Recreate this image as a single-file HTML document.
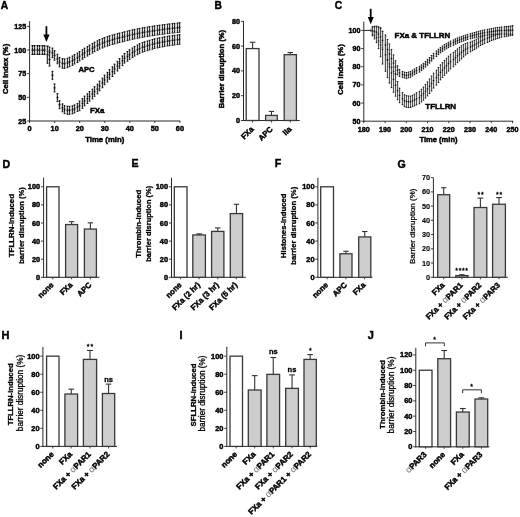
<!DOCTYPE html>
<html><head><meta charset="utf-8"><style>
html,body{margin:0;padding:0;background:#fff;}
svg{display:block;filter:grayscale(1) blur(0.25px);}
text{font-family:"Liberation Sans", sans-serif;}
</style></head><body>
<svg width="520" height="517" viewBox="0 0 520 517">
<rect width="520" height="517" fill="#fff"/>
<text x="0.80" y="8.80" font-size="10.2" font-weight="bold" text-anchor="start" fill="#000" stroke="#000" stroke-width="0.45">A</text>
<text x="214.50" y="8.80" font-size="10.2" font-weight="bold" text-anchor="start" fill="#000" stroke="#000" stroke-width="0.45">B</text>
<text x="334.80" y="8.80" font-size="10.2" font-weight="bold" text-anchor="start" fill="#000" stroke="#000" stroke-width="0.45">C</text>
<text x="2.60" y="167.50" font-size="10.6" font-weight="bold" text-anchor="start" fill="#000" stroke="#000" stroke-width="0.45">D</text>
<text x="131.60" y="167.40" font-size="10.6" font-weight="bold" text-anchor="start" fill="#000" stroke="#000" stroke-width="0.45">E</text>
<text x="274.80" y="167.40" font-size="10.6" font-weight="bold" text-anchor="start" fill="#000" stroke="#000" stroke-width="0.45">F</text>
<text x="397.60" y="167.60" font-size="10.6" font-weight="bold" text-anchor="start" fill="#000" stroke="#000" stroke-width="0.45">G</text>
<text x="1.60" y="339.40" font-size="11.0" font-weight="bold" text-anchor="start" fill="#000" stroke="#000" stroke-width="0.45">H</text>
<text x="179.40" y="339.40" font-size="11.0" font-weight="bold" text-anchor="start" fill="#000" stroke="#000" stroke-width="0.45">I</text>
<text x="367.80" y="339.30" font-size="11.0" font-weight="bold" text-anchor="start" fill="#000" stroke="#000" stroke-width="0.45">J</text>
<line x1="29.60" y1="21.20" x2="29.60" y2="121.50" stroke="#2a2a2a" stroke-width="1.0"/>
<line x1="27.00" y1="26.33" x2="29.60" y2="26.33" stroke="#2a2a2a" stroke-width="0.9"/>
<text x="26.20" y="28.83" font-size="7.1" font-weight="bold" text-anchor="end" fill="#000" stroke="#000" stroke-width="0.45">125</text>
<line x1="27.00" y1="50.00" x2="29.60" y2="50.00" stroke="#2a2a2a" stroke-width="0.9"/>
<text x="26.20" y="52.50" font-size="7.1" font-weight="bold" text-anchor="end" fill="#000" stroke="#000" stroke-width="0.45">100</text>
<line x1="27.00" y1="73.67" x2="29.60" y2="73.67" stroke="#2a2a2a" stroke-width="0.9"/>
<text x="26.20" y="76.17" font-size="7.1" font-weight="bold" text-anchor="end" fill="#000" stroke="#000" stroke-width="0.45">75</text>
<line x1="27.00" y1="97.34" x2="29.60" y2="97.34" stroke="#2a2a2a" stroke-width="0.9"/>
<text x="26.20" y="99.84" font-size="7.1" font-weight="bold" text-anchor="end" fill="#000" stroke="#000" stroke-width="0.45">50</text>
<line x1="27.00" y1="121.00" x2="29.60" y2="121.00" stroke="#2a2a2a" stroke-width="0.9"/>
<text x="26.20" y="123.50" font-size="7.1" font-weight="bold" text-anchor="end" fill="#000" stroke="#000" stroke-width="0.45">25</text>
<line x1="29.10" y1="121.00" x2="180.20" y2="121.00" stroke="#2a2a2a" stroke-width="1.0"/>
<line x1="29.60" y1="121.00" x2="29.60" y2="123.00" stroke="#2a2a2a" stroke-width="0.9"/>
<text x="29.60" y="131.40" font-size="7.3" font-weight="bold" text-anchor="middle" fill="#000" stroke="#000" stroke-width="0.45">0</text>
<line x1="54.65" y1="121.00" x2="54.65" y2="123.00" stroke="#2a2a2a" stroke-width="0.9"/>
<text x="54.65" y="131.40" font-size="7.3" font-weight="bold" text-anchor="middle" fill="#000" stroke="#000" stroke-width="0.45">10</text>
<line x1="79.70" y1="121.00" x2="79.70" y2="123.00" stroke="#2a2a2a" stroke-width="0.9"/>
<text x="79.70" y="131.40" font-size="7.3" font-weight="bold" text-anchor="middle" fill="#000" stroke="#000" stroke-width="0.45">20</text>
<line x1="104.75" y1="121.00" x2="104.75" y2="123.00" stroke="#2a2a2a" stroke-width="0.9"/>
<text x="104.75" y="131.40" font-size="7.3" font-weight="bold" text-anchor="middle" fill="#000" stroke="#000" stroke-width="0.45">30</text>
<line x1="129.80" y1="121.00" x2="129.80" y2="123.00" stroke="#2a2a2a" stroke-width="0.9"/>
<text x="129.80" y="131.40" font-size="7.3" font-weight="bold" text-anchor="middle" fill="#000" stroke="#000" stroke-width="0.45">40</text>
<line x1="154.85" y1="121.00" x2="154.85" y2="123.00" stroke="#2a2a2a" stroke-width="0.9"/>
<text x="154.85" y="131.40" font-size="7.3" font-weight="bold" text-anchor="middle" fill="#000" stroke="#000" stroke-width="0.45">50</text>
<line x1="179.90" y1="121.00" x2="179.90" y2="123.00" stroke="#2a2a2a" stroke-width="0.9"/>
<text x="179.90" y="131.40" font-size="7.3" font-weight="bold" text-anchor="middle" fill="#000" stroke="#000" stroke-width="0.45">60</text>
<text x="104.75" y="142.20" font-size="7.8" font-weight="bold" text-anchor="middle" textLength="39.00" lengthAdjust="spacingAndGlyphs" fill="#000" stroke="#000" stroke-width="0.45">Time (min)</text>
<text x="7.90" y="68.90" font-size="7.7" font-weight="bold" text-anchor="middle" transform="rotate(-90 7.90 68.90)" textLength="50.20" lengthAdjust="spacingAndGlyphs" fill="#000" stroke="#000" stroke-width="0.45">Cell index (%)</text>
<rect x="31.01" y="45.65" width="2.20" height="8.71" fill="#d0d0d0"/>
<rect x="33.51" y="45.65" width="2.20" height="8.71" fill="#d0d0d0"/>
<rect x="36.02" y="45.65" width="2.20" height="8.71" fill="#d0d0d0"/>
<rect x="38.52" y="45.65" width="2.20" height="8.71" fill="#d0d0d0"/>
<rect x="41.02" y="45.65" width="2.20" height="8.71" fill="#d0d0d0"/>
<rect x="43.53" y="45.65" width="2.20" height="8.71" fill="#d0d0d0"/>
<rect x="46.04" y="46.12" width="2.20" height="8.71" fill="#d0d0d0"/>
<rect x="48.54" y="47.07" width="2.20" height="8.71" fill="#d0d0d0"/>
<rect x="51.04" y="48.11" width="2.20" height="9.47" fill="#d0d0d0"/>
<rect x="53.55" y="50.66" width="2.20" height="9.47" fill="#d0d0d0"/>
<rect x="56.05" y="54.26" width="2.20" height="9.47" fill="#d0d0d0"/>
<rect x="58.56" y="57.38" width="2.20" height="9.47" fill="#d0d0d0"/>
<rect x="61.06" y="58.71" width="2.20" height="9.47" fill="#d0d0d0"/>
<rect x="63.57" y="58.90" width="2.20" height="9.47" fill="#d0d0d0"/>
<rect x="66.08" y="58.24" width="2.20" height="9.47" fill="#d0d0d0"/>
<rect x="68.58" y="57.19" width="2.20" height="9.47" fill="#d0d0d0"/>
<rect x="71.09" y="55.96" width="2.20" height="9.47" fill="#d0d0d0"/>
<rect x="73.59" y="54.54" width="2.20" height="9.47" fill="#d0d0d0"/>
<rect x="76.09" y="53.03" width="2.20" height="9.47" fill="#d0d0d0"/>
<rect x="78.60" y="51.42" width="2.20" height="9.47" fill="#d0d0d0"/>
<rect x="81.11" y="49.76" width="2.20" height="9.47" fill="#d0d0d0"/>
<rect x="83.61" y="48.11" width="2.20" height="9.47" fill="#d0d0d0"/>
<rect x="86.12" y="46.59" width="2.20" height="9.47" fill="#d0d0d0"/>
<rect x="88.62" y="45.08" width="2.20" height="9.47" fill="#d0d0d0"/>
<rect x="91.12" y="43.61" width="2.20" height="9.47" fill="#d0d0d0"/>
<rect x="93.63" y="42.14" width="2.20" height="9.47" fill="#d0d0d0"/>
<rect x="96.13" y="40.86" width="2.20" height="9.47" fill="#d0d0d0"/>
<rect x="98.64" y="39.59" width="2.20" height="9.47" fill="#d0d0d0"/>
<rect x="101.15" y="38.54" width="2.20" height="9.47" fill="#d0d0d0"/>
<rect x="103.65" y="37.50" width="2.20" height="9.47" fill="#d0d0d0"/>
<rect x="106.16" y="36.65" width="2.20" height="9.47" fill="#d0d0d0"/>
<rect x="108.66" y="35.80" width="2.20" height="9.47" fill="#d0d0d0"/>
<rect x="111.16" y="35.07" width="2.20" height="9.47" fill="#d0d0d0"/>
<rect x="113.67" y="34.35" width="2.20" height="9.47" fill="#d0d0d0"/>
<rect x="116.18" y="33.62" width="2.20" height="9.47" fill="#d0d0d0"/>
<rect x="118.68" y="33.01" width="2.20" height="9.47" fill="#d0d0d0"/>
<rect x="121.19" y="32.39" width="2.20" height="9.47" fill="#d0d0d0"/>
<rect x="123.69" y="31.75" width="2.20" height="9.47" fill="#d0d0d0"/>
<rect x="126.19" y="31.11" width="2.20" height="9.47" fill="#d0d0d0"/>
<rect x="128.70" y="30.47" width="2.20" height="9.47" fill="#d0d0d0"/>
<rect x="131.21" y="29.84" width="2.20" height="9.47" fill="#d0d0d0"/>
<rect x="133.71" y="29.34" width="2.20" height="9.47" fill="#d0d0d0"/>
<rect x="136.22" y="28.84" width="2.20" height="9.47" fill="#d0d0d0"/>
<rect x="138.72" y="28.34" width="2.20" height="9.47" fill="#d0d0d0"/>
<rect x="141.22" y="27.85" width="2.20" height="9.47" fill="#d0d0d0"/>
<rect x="143.73" y="27.45" width="2.20" height="9.47" fill="#d0d0d0"/>
<rect x="146.24" y="27.05" width="2.20" height="9.47" fill="#d0d0d0"/>
<rect x="148.74" y="26.65" width="2.20" height="9.47" fill="#d0d0d0"/>
<rect x="151.25" y="26.26" width="2.20" height="9.47" fill="#d0d0d0"/>
<rect x="153.75" y="25.86" width="2.20" height="9.47" fill="#d0d0d0"/>
<rect x="156.25" y="25.52" width="2.20" height="9.47" fill="#d0d0d0"/>
<rect x="158.76" y="25.18" width="2.20" height="9.47" fill="#d0d0d0"/>
<rect x="161.26" y="24.84" width="2.20" height="9.47" fill="#d0d0d0"/>
<rect x="163.77" y="24.50" width="2.20" height="9.47" fill="#d0d0d0"/>
<rect x="166.28" y="24.16" width="2.20" height="9.47" fill="#d0d0d0"/>
<rect x="168.78" y="23.87" width="2.20" height="9.47" fill="#d0d0d0"/>
<rect x="171.28" y="23.59" width="2.20" height="9.47" fill="#d0d0d0"/>
<rect x="173.79" y="23.30" width="2.20" height="9.47" fill="#d0d0d0"/>
<rect x="176.29" y="23.02" width="2.20" height="9.47" fill="#d0d0d0"/>
<rect x="178.80" y="22.74" width="2.20" height="9.47" fill="#d0d0d0"/>
<line x1="32.50" y1="45.65" x2="32.50" y2="54.35" stroke="#505050" stroke-width="1.0"/>
<line x1="32.50" y1="45.65" x2="32.50" y2="54.35" stroke="#1a1a1a" stroke-width="1.0" stroke-dasharray="1.2 1.2"/>
<rect x="31.60" y="45.15" width="1.8" height="1" fill="#111"/>
<rect x="31.60" y="53.85" width="1.8" height="1" fill="#111"/>
<rect x="31.60" y="49.30" width="1.8" height="1.4" fill="#111"/>
<line x1="34.50" y1="45.65" x2="34.50" y2="54.35" stroke="#505050" stroke-width="1.0"/>
<line x1="34.50" y1="45.65" x2="34.50" y2="54.35" stroke="#1a1a1a" stroke-width="1.0" stroke-dasharray="1.2 1.2"/>
<rect x="33.60" y="45.15" width="1.8" height="1" fill="#111"/>
<rect x="33.60" y="53.85" width="1.8" height="1" fill="#111"/>
<rect x="33.60" y="49.30" width="1.8" height="1.4" fill="#111"/>
<line x1="37.50" y1="45.65" x2="37.50" y2="54.35" stroke="#505050" stroke-width="1.0"/>
<line x1="37.50" y1="45.65" x2="37.50" y2="54.35" stroke="#1a1a1a" stroke-width="1.0" stroke-dasharray="1.2 1.2"/>
<rect x="36.60" y="45.15" width="1.8" height="1" fill="#111"/>
<rect x="36.60" y="53.85" width="1.8" height="1" fill="#111"/>
<rect x="36.60" y="49.30" width="1.8" height="1.4" fill="#111"/>
<line x1="39.50" y1="45.65" x2="39.50" y2="54.35" stroke="#505050" stroke-width="1.0"/>
<line x1="39.50" y1="45.65" x2="39.50" y2="54.35" stroke="#1a1a1a" stroke-width="1.0" stroke-dasharray="1.2 1.2"/>
<rect x="38.60" y="45.15" width="1.8" height="1" fill="#111"/>
<rect x="38.60" y="53.85" width="1.8" height="1" fill="#111"/>
<rect x="38.60" y="49.30" width="1.8" height="1.4" fill="#111"/>
<line x1="42.50" y1="45.65" x2="42.50" y2="54.35" stroke="#505050" stroke-width="1.0"/>
<line x1="42.50" y1="45.65" x2="42.50" y2="54.35" stroke="#1a1a1a" stroke-width="1.0" stroke-dasharray="1.2 1.2"/>
<rect x="41.60" y="45.15" width="1.8" height="1" fill="#111"/>
<rect x="41.60" y="53.85" width="1.8" height="1" fill="#111"/>
<rect x="41.60" y="49.30" width="1.8" height="1.4" fill="#111"/>
<line x1="44.50" y1="45.65" x2="44.50" y2="54.35" stroke="#505050" stroke-width="1.0"/>
<line x1="44.50" y1="45.65" x2="44.50" y2="54.35" stroke="#1a1a1a" stroke-width="1.0" stroke-dasharray="1.2 1.2"/>
<rect x="43.60" y="45.15" width="1.8" height="1" fill="#111"/>
<rect x="43.60" y="53.85" width="1.8" height="1" fill="#111"/>
<rect x="43.60" y="49.30" width="1.8" height="1.4" fill="#111"/>
<line x1="47.50" y1="46.12" x2="47.50" y2="54.83" stroke="#505050" stroke-width="1.0"/>
<line x1="47.50" y1="46.12" x2="47.50" y2="54.83" stroke="#1a1a1a" stroke-width="1.0" stroke-dasharray="1.2 1.2"/>
<rect x="46.60" y="45.62" width="1.8" height="1" fill="#111"/>
<rect x="46.60" y="54.33" width="1.8" height="1" fill="#111"/>
<rect x="46.60" y="49.77" width="1.8" height="1.4" fill="#111"/>
<line x1="49.50" y1="47.07" x2="49.50" y2="55.77" stroke="#505050" stroke-width="1.0"/>
<line x1="49.50" y1="47.07" x2="49.50" y2="55.77" stroke="#1a1a1a" stroke-width="1.0" stroke-dasharray="1.2 1.2"/>
<rect x="48.60" y="46.57" width="1.8" height="1" fill="#111"/>
<rect x="48.60" y="55.27" width="1.8" height="1" fill="#111"/>
<rect x="48.60" y="50.72" width="1.8" height="1.4" fill="#111"/>
<line x1="52.50" y1="48.11" x2="52.50" y2="57.57" stroke="#505050" stroke-width="1.0"/>
<line x1="52.50" y1="48.11" x2="52.50" y2="57.57" stroke="#1a1a1a" stroke-width="1.0" stroke-dasharray="1.2 1.2"/>
<rect x="51.60" y="47.61" width="1.8" height="1" fill="#111"/>
<rect x="51.60" y="57.07" width="1.8" height="1" fill="#111"/>
<rect x="51.60" y="52.14" width="1.8" height="1.4" fill="#111"/>
<line x1="54.50" y1="50.66" x2="54.50" y2="60.13" stroke="#505050" stroke-width="1.0"/>
<line x1="54.50" y1="50.66" x2="54.50" y2="60.13" stroke="#1a1a1a" stroke-width="1.0" stroke-dasharray="1.2 1.2"/>
<rect x="53.60" y="50.16" width="1.8" height="1" fill="#111"/>
<rect x="53.60" y="59.63" width="1.8" height="1" fill="#111"/>
<rect x="53.60" y="54.70" width="1.8" height="1.4" fill="#111"/>
<line x1="57.50" y1="54.26" x2="57.50" y2="63.73" stroke="#505050" stroke-width="1.0"/>
<line x1="57.50" y1="54.26" x2="57.50" y2="63.73" stroke="#1a1a1a" stroke-width="1.0" stroke-dasharray="1.2 1.2"/>
<rect x="56.60" y="53.76" width="1.8" height="1" fill="#111"/>
<rect x="56.60" y="63.23" width="1.8" height="1" fill="#111"/>
<rect x="56.60" y="58.29" width="1.8" height="1.4" fill="#111"/>
<line x1="59.50" y1="57.38" x2="59.50" y2="66.85" stroke="#505050" stroke-width="1.0"/>
<line x1="59.50" y1="57.38" x2="59.50" y2="66.85" stroke="#1a1a1a" stroke-width="1.0" stroke-dasharray="1.2 1.2"/>
<rect x="58.60" y="56.88" width="1.8" height="1" fill="#111"/>
<rect x="58.60" y="66.35" width="1.8" height="1" fill="#111"/>
<rect x="58.60" y="61.42" width="1.8" height="1.4" fill="#111"/>
<line x1="62.50" y1="58.71" x2="62.50" y2="68.18" stroke="#505050" stroke-width="1.0"/>
<line x1="62.50" y1="58.71" x2="62.50" y2="68.18" stroke="#1a1a1a" stroke-width="1.0" stroke-dasharray="1.2 1.2"/>
<rect x="61.60" y="58.21" width="1.8" height="1" fill="#111"/>
<rect x="61.60" y="67.68" width="1.8" height="1" fill="#111"/>
<rect x="61.60" y="62.74" width="1.8" height="1.4" fill="#111"/>
<line x1="64.50" y1="58.90" x2="64.50" y2="68.37" stroke="#505050" stroke-width="1.0"/>
<line x1="64.50" y1="58.90" x2="64.50" y2="68.37" stroke="#1a1a1a" stroke-width="1.0" stroke-dasharray="1.2 1.2"/>
<rect x="63.60" y="58.40" width="1.8" height="1" fill="#111"/>
<rect x="63.60" y="67.87" width="1.8" height="1" fill="#111"/>
<rect x="63.60" y="62.93" width="1.8" height="1.4" fill="#111"/>
<line x1="67.50" y1="58.24" x2="67.50" y2="67.70" stroke="#505050" stroke-width="1.0"/>
<line x1="67.50" y1="58.24" x2="67.50" y2="67.70" stroke="#1a1a1a" stroke-width="1.0" stroke-dasharray="1.2 1.2"/>
<rect x="66.60" y="57.74" width="1.8" height="1" fill="#111"/>
<rect x="66.60" y="67.20" width="1.8" height="1" fill="#111"/>
<rect x="66.60" y="62.27" width="1.8" height="1.4" fill="#111"/>
<line x1="69.50" y1="57.19" x2="69.50" y2="66.66" stroke="#505050" stroke-width="1.0"/>
<line x1="69.50" y1="57.19" x2="69.50" y2="66.66" stroke="#1a1a1a" stroke-width="1.0" stroke-dasharray="1.2 1.2"/>
<rect x="68.60" y="56.69" width="1.8" height="1" fill="#111"/>
<rect x="68.60" y="66.16" width="1.8" height="1" fill="#111"/>
<rect x="68.60" y="61.23" width="1.8" height="1.4" fill="#111"/>
<line x1="72.50" y1="55.96" x2="72.50" y2="65.43" stroke="#505050" stroke-width="1.0"/>
<line x1="72.50" y1="55.96" x2="72.50" y2="65.43" stroke="#1a1a1a" stroke-width="1.0" stroke-dasharray="1.2 1.2"/>
<rect x="71.60" y="55.46" width="1.8" height="1" fill="#111"/>
<rect x="71.60" y="64.93" width="1.8" height="1" fill="#111"/>
<rect x="71.60" y="60.00" width="1.8" height="1.4" fill="#111"/>
<line x1="74.50" y1="54.54" x2="74.50" y2="64.01" stroke="#505050" stroke-width="1.0"/>
<line x1="74.50" y1="54.54" x2="74.50" y2="64.01" stroke="#1a1a1a" stroke-width="1.0" stroke-dasharray="1.2 1.2"/>
<rect x="73.60" y="54.04" width="1.8" height="1" fill="#111"/>
<rect x="73.60" y="63.51" width="1.8" height="1" fill="#111"/>
<rect x="73.60" y="58.58" width="1.8" height="1.4" fill="#111"/>
<line x1="77.50" y1="53.03" x2="77.50" y2="62.50" stroke="#505050" stroke-width="1.0"/>
<line x1="77.50" y1="53.03" x2="77.50" y2="62.50" stroke="#1a1a1a" stroke-width="1.0" stroke-dasharray="1.2 1.2"/>
<rect x="76.60" y="52.53" width="1.8" height="1" fill="#111"/>
<rect x="76.60" y="62.00" width="1.8" height="1" fill="#111"/>
<rect x="76.60" y="57.06" width="1.8" height="1.4" fill="#111"/>
<line x1="79.50" y1="51.42" x2="79.50" y2="60.89" stroke="#505050" stroke-width="1.0"/>
<line x1="79.50" y1="51.42" x2="79.50" y2="60.89" stroke="#1a1a1a" stroke-width="1.0" stroke-dasharray="1.2 1.2"/>
<rect x="78.60" y="50.92" width="1.8" height="1" fill="#111"/>
<rect x="78.60" y="60.39" width="1.8" height="1" fill="#111"/>
<rect x="78.60" y="55.45" width="1.8" height="1.4" fill="#111"/>
<line x1="82.50" y1="49.76" x2="82.50" y2="59.23" stroke="#505050" stroke-width="1.0"/>
<line x1="82.50" y1="49.76" x2="82.50" y2="59.23" stroke="#1a1a1a" stroke-width="1.0" stroke-dasharray="1.2 1.2"/>
<rect x="81.60" y="49.26" width="1.8" height="1" fill="#111"/>
<rect x="81.60" y="58.73" width="1.8" height="1" fill="#111"/>
<rect x="81.60" y="53.80" width="1.8" height="1.4" fill="#111"/>
<line x1="84.50" y1="48.11" x2="84.50" y2="57.57" stroke="#505050" stroke-width="1.0"/>
<line x1="84.50" y1="48.11" x2="84.50" y2="57.57" stroke="#1a1a1a" stroke-width="1.0" stroke-dasharray="1.2 1.2"/>
<rect x="83.60" y="47.61" width="1.8" height="1" fill="#111"/>
<rect x="83.60" y="57.07" width="1.8" height="1" fill="#111"/>
<rect x="83.60" y="52.14" width="1.8" height="1.4" fill="#111"/>
<line x1="87.50" y1="46.59" x2="87.50" y2="56.06" stroke="#505050" stroke-width="1.0"/>
<line x1="87.50" y1="46.59" x2="87.50" y2="56.06" stroke="#1a1a1a" stroke-width="1.0" stroke-dasharray="1.2 1.2"/>
<rect x="86.60" y="46.09" width="1.8" height="1" fill="#111"/>
<rect x="86.60" y="55.56" width="1.8" height="1" fill="#111"/>
<rect x="86.60" y="50.63" width="1.8" height="1.4" fill="#111"/>
<line x1="89.50" y1="45.08" x2="89.50" y2="54.54" stroke="#505050" stroke-width="1.0"/>
<line x1="89.50" y1="45.08" x2="89.50" y2="54.54" stroke="#1a1a1a" stroke-width="1.0" stroke-dasharray="1.2 1.2"/>
<rect x="88.60" y="44.58" width="1.8" height="1" fill="#111"/>
<rect x="88.60" y="54.04" width="1.8" height="1" fill="#111"/>
<rect x="88.60" y="49.11" width="1.8" height="1.4" fill="#111"/>
<line x1="92.50" y1="43.61" x2="92.50" y2="53.08" stroke="#505050" stroke-width="1.0"/>
<line x1="92.50" y1="43.61" x2="92.50" y2="53.08" stroke="#1a1a1a" stroke-width="1.0" stroke-dasharray="1.2 1.2"/>
<rect x="91.60" y="43.11" width="1.8" height="1" fill="#111"/>
<rect x="91.60" y="52.58" width="1.8" height="1" fill="#111"/>
<rect x="91.60" y="47.64" width="1.8" height="1.4" fill="#111"/>
<line x1="94.50" y1="42.14" x2="94.50" y2="51.61" stroke="#505050" stroke-width="1.0"/>
<line x1="94.50" y1="42.14" x2="94.50" y2="51.61" stroke="#1a1a1a" stroke-width="1.0" stroke-dasharray="1.2 1.2"/>
<rect x="93.60" y="41.64" width="1.8" height="1" fill="#111"/>
<rect x="93.60" y="51.11" width="1.8" height="1" fill="#111"/>
<rect x="93.60" y="46.18" width="1.8" height="1.4" fill="#111"/>
<line x1="97.50" y1="40.86" x2="97.50" y2="50.33" stroke="#505050" stroke-width="1.0"/>
<line x1="97.50" y1="40.86" x2="97.50" y2="50.33" stroke="#1a1a1a" stroke-width="1.0" stroke-dasharray="1.2 1.2"/>
<rect x="96.60" y="40.36" width="1.8" height="1" fill="#111"/>
<rect x="96.60" y="49.83" width="1.8" height="1" fill="#111"/>
<rect x="96.60" y="44.90" width="1.8" height="1.4" fill="#111"/>
<line x1="99.50" y1="39.59" x2="99.50" y2="49.05" stroke="#505050" stroke-width="1.0"/>
<line x1="99.50" y1="39.59" x2="99.50" y2="49.05" stroke="#1a1a1a" stroke-width="1.0" stroke-dasharray="1.2 1.2"/>
<rect x="98.60" y="39.09" width="1.8" height="1" fill="#111"/>
<rect x="98.60" y="48.55" width="1.8" height="1" fill="#111"/>
<rect x="98.60" y="43.62" width="1.8" height="1.4" fill="#111"/>
<line x1="102.50" y1="38.54" x2="102.50" y2="48.01" stroke="#505050" stroke-width="1.0"/>
<line x1="102.50" y1="38.54" x2="102.50" y2="48.01" stroke="#1a1a1a" stroke-width="1.0" stroke-dasharray="1.2 1.2"/>
<rect x="101.60" y="38.04" width="1.8" height="1" fill="#111"/>
<rect x="101.60" y="47.51" width="1.8" height="1" fill="#111"/>
<rect x="101.60" y="42.58" width="1.8" height="1.4" fill="#111"/>
<line x1="104.50" y1="37.50" x2="104.50" y2="46.97" stroke="#505050" stroke-width="1.0"/>
<line x1="104.50" y1="37.50" x2="104.50" y2="46.97" stroke="#1a1a1a" stroke-width="1.0" stroke-dasharray="1.2 1.2"/>
<rect x="103.60" y="37.00" width="1.8" height="1" fill="#111"/>
<rect x="103.60" y="46.47" width="1.8" height="1" fill="#111"/>
<rect x="103.60" y="41.54" width="1.8" height="1.4" fill="#111"/>
<line x1="107.50" y1="36.65" x2="107.50" y2="46.12" stroke="#505050" stroke-width="1.0"/>
<line x1="107.50" y1="36.65" x2="107.50" y2="46.12" stroke="#1a1a1a" stroke-width="1.0" stroke-dasharray="1.2 1.2"/>
<rect x="106.60" y="36.15" width="1.8" height="1" fill="#111"/>
<rect x="106.60" y="45.62" width="1.8" height="1" fill="#111"/>
<rect x="106.60" y="40.69" width="1.8" height="1.4" fill="#111"/>
<line x1="109.50" y1="35.80" x2="109.50" y2="45.27" stroke="#505050" stroke-width="1.0"/>
<line x1="109.50" y1="35.80" x2="109.50" y2="45.27" stroke="#1a1a1a" stroke-width="1.0" stroke-dasharray="1.2 1.2"/>
<rect x="108.60" y="35.30" width="1.8" height="1" fill="#111"/>
<rect x="108.60" y="44.77" width="1.8" height="1" fill="#111"/>
<rect x="108.60" y="39.83" width="1.8" height="1.4" fill="#111"/>
<line x1="112.50" y1="35.07" x2="112.50" y2="44.54" stroke="#505050" stroke-width="1.0"/>
<line x1="112.50" y1="35.07" x2="112.50" y2="44.54" stroke="#1a1a1a" stroke-width="1.0" stroke-dasharray="1.2 1.2"/>
<rect x="111.60" y="34.57" width="1.8" height="1" fill="#111"/>
<rect x="111.60" y="44.04" width="1.8" height="1" fill="#111"/>
<rect x="111.60" y="39.11" width="1.8" height="1.4" fill="#111"/>
<line x1="114.50" y1="34.35" x2="114.50" y2="43.81" stroke="#505050" stroke-width="1.0"/>
<line x1="114.50" y1="34.35" x2="114.50" y2="43.81" stroke="#1a1a1a" stroke-width="1.0" stroke-dasharray="1.2 1.2"/>
<rect x="113.60" y="33.85" width="1.8" height="1" fill="#111"/>
<rect x="113.60" y="43.31" width="1.8" height="1" fill="#111"/>
<rect x="113.60" y="38.38" width="1.8" height="1.4" fill="#111"/>
<line x1="117.50" y1="33.62" x2="117.50" y2="43.09" stroke="#505050" stroke-width="1.0"/>
<line x1="117.50" y1="33.62" x2="117.50" y2="43.09" stroke="#1a1a1a" stroke-width="1.0" stroke-dasharray="1.2 1.2"/>
<rect x="116.60" y="33.12" width="1.8" height="1" fill="#111"/>
<rect x="116.60" y="42.59" width="1.8" height="1" fill="#111"/>
<rect x="116.60" y="37.66" width="1.8" height="1.4" fill="#111"/>
<line x1="119.50" y1="33.01" x2="119.50" y2="42.47" stroke="#505050" stroke-width="1.0"/>
<line x1="119.50" y1="33.01" x2="119.50" y2="42.47" stroke="#1a1a1a" stroke-width="1.0" stroke-dasharray="1.2 1.2"/>
<rect x="118.60" y="32.51" width="1.8" height="1" fill="#111"/>
<rect x="118.60" y="41.97" width="1.8" height="1" fill="#111"/>
<rect x="118.60" y="37.04" width="1.8" height="1.4" fill="#111"/>
<line x1="122.50" y1="32.39" x2="122.50" y2="41.86" stroke="#505050" stroke-width="1.0"/>
<line x1="122.50" y1="32.39" x2="122.50" y2="41.86" stroke="#1a1a1a" stroke-width="1.0" stroke-dasharray="1.2 1.2"/>
<rect x="121.60" y="31.89" width="1.8" height="1" fill="#111"/>
<rect x="121.60" y="41.36" width="1.8" height="1" fill="#111"/>
<rect x="121.60" y="36.42" width="1.8" height="1.4" fill="#111"/>
<line x1="124.50" y1="31.75" x2="124.50" y2="41.22" stroke="#505050" stroke-width="1.0"/>
<line x1="124.50" y1="31.75" x2="124.50" y2="41.22" stroke="#1a1a1a" stroke-width="1.0" stroke-dasharray="1.2 1.2"/>
<rect x="123.60" y="31.25" width="1.8" height="1" fill="#111"/>
<rect x="123.60" y="40.72" width="1.8" height="1" fill="#111"/>
<rect x="123.60" y="35.79" width="1.8" height="1.4" fill="#111"/>
<line x1="127.50" y1="31.11" x2="127.50" y2="40.58" stroke="#505050" stroke-width="1.0"/>
<line x1="127.50" y1="31.11" x2="127.50" y2="40.58" stroke="#1a1a1a" stroke-width="1.0" stroke-dasharray="1.2 1.2"/>
<rect x="126.60" y="30.61" width="1.8" height="1" fill="#111"/>
<rect x="126.60" y="40.08" width="1.8" height="1" fill="#111"/>
<rect x="126.60" y="35.15" width="1.8" height="1.4" fill="#111"/>
<line x1="129.50" y1="30.47" x2="129.50" y2="39.94" stroke="#505050" stroke-width="1.0"/>
<line x1="129.50" y1="30.47" x2="129.50" y2="39.94" stroke="#1a1a1a" stroke-width="1.0" stroke-dasharray="1.2 1.2"/>
<rect x="128.60" y="29.97" width="1.8" height="1" fill="#111"/>
<rect x="128.60" y="39.44" width="1.8" height="1" fill="#111"/>
<rect x="128.60" y="34.51" width="1.8" height="1.4" fill="#111"/>
<line x1="132.50" y1="29.84" x2="132.50" y2="39.30" stroke="#505050" stroke-width="1.0"/>
<line x1="132.50" y1="29.84" x2="132.50" y2="39.30" stroke="#1a1a1a" stroke-width="1.0" stroke-dasharray="1.2 1.2"/>
<rect x="131.60" y="29.34" width="1.8" height="1" fill="#111"/>
<rect x="131.60" y="38.80" width="1.8" height="1" fill="#111"/>
<rect x="131.60" y="33.87" width="1.8" height="1.4" fill="#111"/>
<line x1="134.50" y1="29.34" x2="134.50" y2="38.81" stroke="#505050" stroke-width="1.0"/>
<line x1="134.50" y1="29.34" x2="134.50" y2="38.81" stroke="#1a1a1a" stroke-width="1.0" stroke-dasharray="1.2 1.2"/>
<rect x="133.60" y="28.84" width="1.8" height="1" fill="#111"/>
<rect x="133.60" y="38.31" width="1.8" height="1" fill="#111"/>
<rect x="133.60" y="33.37" width="1.8" height="1.4" fill="#111"/>
<line x1="137.50" y1="28.84" x2="137.50" y2="38.31" stroke="#505050" stroke-width="1.0"/>
<line x1="137.50" y1="28.84" x2="137.50" y2="38.31" stroke="#1a1a1a" stroke-width="1.0" stroke-dasharray="1.2 1.2"/>
<rect x="136.60" y="28.34" width="1.8" height="1" fill="#111"/>
<rect x="136.60" y="37.81" width="1.8" height="1" fill="#111"/>
<rect x="136.60" y="32.87" width="1.8" height="1.4" fill="#111"/>
<line x1="139.50" y1="28.34" x2="139.50" y2="37.81" stroke="#505050" stroke-width="1.0"/>
<line x1="139.50" y1="28.34" x2="139.50" y2="37.81" stroke="#1a1a1a" stroke-width="1.0" stroke-dasharray="1.2 1.2"/>
<rect x="138.60" y="27.84" width="1.8" height="1" fill="#111"/>
<rect x="138.60" y="37.31" width="1.8" height="1" fill="#111"/>
<rect x="138.60" y="32.38" width="1.8" height="1.4" fill="#111"/>
<line x1="142.50" y1="27.85" x2="142.50" y2="37.31" stroke="#505050" stroke-width="1.0"/>
<line x1="142.50" y1="27.85" x2="142.50" y2="37.31" stroke="#1a1a1a" stroke-width="1.0" stroke-dasharray="1.2 1.2"/>
<rect x="141.60" y="27.35" width="1.8" height="1" fill="#111"/>
<rect x="141.60" y="36.81" width="1.8" height="1" fill="#111"/>
<rect x="141.60" y="31.88" width="1.8" height="1.4" fill="#111"/>
<line x1="144.50" y1="27.45" x2="144.50" y2="36.92" stroke="#505050" stroke-width="1.0"/>
<line x1="144.50" y1="27.45" x2="144.50" y2="36.92" stroke="#1a1a1a" stroke-width="1.0" stroke-dasharray="1.2 1.2"/>
<rect x="143.60" y="26.95" width="1.8" height="1" fill="#111"/>
<rect x="143.60" y="36.42" width="1.8" height="1" fill="#111"/>
<rect x="143.60" y="31.48" width="1.8" height="1.4" fill="#111"/>
<line x1="147.50" y1="27.05" x2="147.50" y2="36.52" stroke="#505050" stroke-width="1.0"/>
<line x1="147.50" y1="27.05" x2="147.50" y2="36.52" stroke="#1a1a1a" stroke-width="1.0" stroke-dasharray="1.2 1.2"/>
<rect x="146.60" y="26.55" width="1.8" height="1" fill="#111"/>
<rect x="146.60" y="36.02" width="1.8" height="1" fill="#111"/>
<rect x="146.60" y="31.09" width="1.8" height="1.4" fill="#111"/>
<line x1="149.50" y1="26.65" x2="149.50" y2="36.12" stroke="#505050" stroke-width="1.0"/>
<line x1="149.50" y1="26.65" x2="149.50" y2="36.12" stroke="#1a1a1a" stroke-width="1.0" stroke-dasharray="1.2 1.2"/>
<rect x="148.60" y="26.15" width="1.8" height="1" fill="#111"/>
<rect x="148.60" y="35.62" width="1.8" height="1" fill="#111"/>
<rect x="148.60" y="30.69" width="1.8" height="1.4" fill="#111"/>
<line x1="152.50" y1="26.26" x2="152.50" y2="35.72" stroke="#505050" stroke-width="1.0"/>
<line x1="152.50" y1="26.26" x2="152.50" y2="35.72" stroke="#1a1a1a" stroke-width="1.0" stroke-dasharray="1.2 1.2"/>
<rect x="151.60" y="25.76" width="1.8" height="1" fill="#111"/>
<rect x="151.60" y="35.22" width="1.8" height="1" fill="#111"/>
<rect x="151.60" y="30.29" width="1.8" height="1.4" fill="#111"/>
<line x1="154.50" y1="25.86" x2="154.50" y2="35.33" stroke="#505050" stroke-width="1.0"/>
<line x1="154.50" y1="25.86" x2="154.50" y2="35.33" stroke="#1a1a1a" stroke-width="1.0" stroke-dasharray="1.2 1.2"/>
<rect x="153.60" y="25.36" width="1.8" height="1" fill="#111"/>
<rect x="153.60" y="34.83" width="1.8" height="1" fill="#111"/>
<rect x="153.60" y="29.89" width="1.8" height="1.4" fill="#111"/>
<line x1="157.50" y1="25.52" x2="157.50" y2="34.99" stroke="#505050" stroke-width="1.0"/>
<line x1="157.50" y1="25.52" x2="157.50" y2="34.99" stroke="#1a1a1a" stroke-width="1.0" stroke-dasharray="1.2 1.2"/>
<rect x="156.60" y="25.02" width="1.8" height="1" fill="#111"/>
<rect x="156.60" y="34.49" width="1.8" height="1" fill="#111"/>
<rect x="156.60" y="29.55" width="1.8" height="1.4" fill="#111"/>
<line x1="159.50" y1="25.18" x2="159.50" y2="34.64" stroke="#505050" stroke-width="1.0"/>
<line x1="159.50" y1="25.18" x2="159.50" y2="34.64" stroke="#1a1a1a" stroke-width="1.0" stroke-dasharray="1.2 1.2"/>
<rect x="158.60" y="24.68" width="1.8" height="1" fill="#111"/>
<rect x="158.60" y="34.14" width="1.8" height="1" fill="#111"/>
<rect x="158.60" y="29.21" width="1.8" height="1.4" fill="#111"/>
<line x1="162.50" y1="24.84" x2="162.50" y2="34.30" stroke="#505050" stroke-width="1.0"/>
<line x1="162.50" y1="24.84" x2="162.50" y2="34.30" stroke="#1a1a1a" stroke-width="1.0" stroke-dasharray="1.2 1.2"/>
<rect x="161.60" y="24.34" width="1.8" height="1" fill="#111"/>
<rect x="161.60" y="33.80" width="1.8" height="1" fill="#111"/>
<rect x="161.60" y="28.87" width="1.8" height="1.4" fill="#111"/>
<line x1="164.50" y1="24.50" x2="164.50" y2="33.96" stroke="#505050" stroke-width="1.0"/>
<line x1="164.50" y1="24.50" x2="164.50" y2="33.96" stroke="#1a1a1a" stroke-width="1.0" stroke-dasharray="1.2 1.2"/>
<rect x="163.60" y="24.00" width="1.8" height="1" fill="#111"/>
<rect x="163.60" y="33.46" width="1.8" height="1" fill="#111"/>
<rect x="163.60" y="28.53" width="1.8" height="1.4" fill="#111"/>
<line x1="167.50" y1="24.16" x2="167.50" y2="33.62" stroke="#505050" stroke-width="1.0"/>
<line x1="167.50" y1="24.16" x2="167.50" y2="33.62" stroke="#1a1a1a" stroke-width="1.0" stroke-dasharray="1.2 1.2"/>
<rect x="166.60" y="23.66" width="1.8" height="1" fill="#111"/>
<rect x="166.60" y="33.12" width="1.8" height="1" fill="#111"/>
<rect x="166.60" y="28.19" width="1.8" height="1.4" fill="#111"/>
<line x1="169.50" y1="23.87" x2="169.50" y2="33.34" stroke="#505050" stroke-width="1.0"/>
<line x1="169.50" y1="23.87" x2="169.50" y2="33.34" stroke="#1a1a1a" stroke-width="1.0" stroke-dasharray="1.2 1.2"/>
<rect x="168.60" y="23.37" width="1.8" height="1" fill="#111"/>
<rect x="168.60" y="32.84" width="1.8" height="1" fill="#111"/>
<rect x="168.60" y="27.90" width="1.8" height="1.4" fill="#111"/>
<line x1="172.50" y1="23.59" x2="172.50" y2="33.05" stroke="#505050" stroke-width="1.0"/>
<line x1="172.50" y1="23.59" x2="172.50" y2="33.05" stroke="#1a1a1a" stroke-width="1.0" stroke-dasharray="1.2 1.2"/>
<rect x="171.60" y="23.09" width="1.8" height="1" fill="#111"/>
<rect x="171.60" y="32.55" width="1.8" height="1" fill="#111"/>
<rect x="171.60" y="27.62" width="1.8" height="1.4" fill="#111"/>
<line x1="174.50" y1="23.30" x2="174.50" y2="32.77" stroke="#505050" stroke-width="1.0"/>
<line x1="174.50" y1="23.30" x2="174.50" y2="32.77" stroke="#1a1a1a" stroke-width="1.0" stroke-dasharray="1.2 1.2"/>
<rect x="173.60" y="22.80" width="1.8" height="1" fill="#111"/>
<rect x="173.60" y="32.27" width="1.8" height="1" fill="#111"/>
<rect x="173.60" y="27.34" width="1.8" height="1.4" fill="#111"/>
<line x1="177.50" y1="23.02" x2="177.50" y2="32.49" stroke="#505050" stroke-width="1.0"/>
<line x1="177.50" y1="23.02" x2="177.50" y2="32.49" stroke="#1a1a1a" stroke-width="1.0" stroke-dasharray="1.2 1.2"/>
<rect x="176.60" y="22.52" width="1.8" height="1" fill="#111"/>
<rect x="176.60" y="31.99" width="1.8" height="1" fill="#111"/>
<rect x="176.60" y="27.05" width="1.8" height="1.4" fill="#111"/>
<line x1="179.50" y1="22.74" x2="179.50" y2="32.20" stroke="#505050" stroke-width="1.0"/>
<line x1="179.50" y1="22.74" x2="179.50" y2="32.20" stroke="#1a1a1a" stroke-width="1.0" stroke-dasharray="1.2 1.2"/>
<rect x="178.60" y="22.24" width="1.8" height="1" fill="#111"/>
<rect x="178.60" y="31.70" width="1.8" height="1" fill="#111"/>
<rect x="178.60" y="26.77" width="1.8" height="1.4" fill="#111"/>
<rect x="31.01" y="45.68" width="2.20" height="8.71" fill="#d0d0d0"/>
<rect x="33.51" y="45.71" width="2.20" height="8.71" fill="#d0d0d0"/>
<rect x="36.02" y="45.74" width="2.20" height="8.71" fill="#d0d0d0"/>
<rect x="38.52" y="45.77" width="2.20" height="8.71" fill="#d0d0d0"/>
<rect x="41.02" y="45.80" width="2.20" height="8.71" fill="#d0d0d0"/>
<rect x="43.53" y="45.83" width="2.20" height="8.71" fill="#d0d0d0"/>
<rect x="46.04" y="46.21" width="2.20" height="17.04" fill="#d0d0d0"/>
<rect x="48.54" y="52.84" width="2.20" height="13.25" fill="#d0d0d0"/>
<rect x="51.04" y="71.33" width="2.20" height="7.95" fill="#d0d0d0"/>
<rect x="53.55" y="83.94" width="2.20" height="7.95" fill="#d0d0d0"/>
<rect x="56.05" y="93.63" width="2.20" height="7.95" fill="#d0d0d0"/>
<rect x="58.56" y="100.71" width="2.20" height="7.95" fill="#d0d0d0"/>
<rect x="61.06" y="103.87" width="2.20" height="7.95" fill="#d0d0d0"/>
<rect x="63.57" y="105.63" width="2.20" height="7.95" fill="#d0d0d0"/>
<rect x="66.08" y="106.23" width="2.20" height="7.95" fill="#d0d0d0"/>
<rect x="68.58" y="106.33" width="2.20" height="7.95" fill="#d0d0d0"/>
<rect x="71.09" y="105.86" width="2.20" height="7.95" fill="#d0d0d0"/>
<rect x="73.59" y="104.91" width="2.20" height="7.95" fill="#d0d0d0"/>
<rect x="76.09" y="103.39" width="2.20" height="7.95" fill="#d0d0d0"/>
<rect x="78.60" y="101.03" width="2.20" height="9.66" fill="#d0d0d0"/>
<rect x="81.11" y="98.57" width="2.20" height="9.66" fill="#d0d0d0"/>
<rect x="83.61" y="96.10" width="2.20" height="9.66" fill="#d0d0d0"/>
<rect x="86.12" y="93.80" width="2.20" height="9.66" fill="#d0d0d0"/>
<rect x="88.62" y="91.50" width="2.20" height="9.66" fill="#d0d0d0"/>
<rect x="91.12" y="89.19" width="2.20" height="9.66" fill="#d0d0d0"/>
<rect x="93.63" y="86.68" width="2.20" height="9.66" fill="#d0d0d0"/>
<rect x="96.13" y="84.18" width="2.20" height="9.66" fill="#d0d0d0"/>
<rect x="98.64" y="81.13" width="2.20" height="9.66" fill="#d0d0d0"/>
<rect x="101.15" y="78.09" width="2.20" height="9.66" fill="#d0d0d0"/>
<rect x="103.65" y="75.09" width="2.20" height="9.66" fill="#d0d0d0"/>
<rect x="106.16" y="72.34" width="2.20" height="9.66" fill="#d0d0d0"/>
<rect x="108.66" y="69.60" width="2.20" height="9.66" fill="#d0d0d0"/>
<rect x="111.16" y="66.85" width="2.20" height="9.66" fill="#d0d0d0"/>
<rect x="113.67" y="64.11" width="2.20" height="9.66" fill="#d0d0d0"/>
<rect x="116.18" y="61.34" width="2.20" height="9.66" fill="#d0d0d0"/>
<rect x="118.68" y="58.58" width="2.20" height="9.66" fill="#d0d0d0"/>
<rect x="121.19" y="55.95" width="2.20" height="9.66" fill="#d0d0d0"/>
<rect x="123.69" y="53.41" width="2.20" height="9.66" fill="#d0d0d0"/>
<rect x="126.19" y="51.56" width="2.20" height="9.66" fill="#d0d0d0"/>
<rect x="128.70" y="49.72" width="2.20" height="9.66" fill="#d0d0d0"/>
<rect x="131.21" y="47.97" width="2.20" height="9.66" fill="#d0d0d0"/>
<rect x="133.71" y="46.43" width="2.20" height="9.66" fill="#d0d0d0"/>
<rect x="136.22" y="44.99" width="2.20" height="9.66" fill="#d0d0d0"/>
<rect x="138.72" y="43.70" width="2.20" height="9.66" fill="#d0d0d0"/>
<rect x="141.22" y="42.52" width="2.20" height="9.66" fill="#d0d0d0"/>
<rect x="143.73" y="41.76" width="2.20" height="9.66" fill="#d0d0d0"/>
<rect x="146.24" y="41.01" width="2.20" height="9.66" fill="#d0d0d0"/>
<rect x="148.74" y="40.25" width="2.20" height="9.66" fill="#d0d0d0"/>
<rect x="151.25" y="39.49" width="2.20" height="9.66" fill="#d0d0d0"/>
<rect x="153.75" y="38.73" width="2.20" height="9.66" fill="#d0d0d0"/>
<rect x="156.25" y="38.24" width="2.20" height="9.66" fill="#d0d0d0"/>
<rect x="158.76" y="37.75" width="2.20" height="9.66" fill="#d0d0d0"/>
<rect x="161.26" y="37.26" width="2.20" height="9.66" fill="#d0d0d0"/>
<rect x="163.77" y="36.77" width="2.20" height="9.66" fill="#d0d0d0"/>
<rect x="166.28" y="36.27" width="2.20" height="9.66" fill="#d0d0d0"/>
<rect x="168.78" y="35.93" width="2.20" height="9.66" fill="#d0d0d0"/>
<rect x="171.28" y="35.59" width="2.20" height="9.66" fill="#d0d0d0"/>
<rect x="173.79" y="35.25" width="2.20" height="9.66" fill="#d0d0d0"/>
<rect x="176.29" y="34.91" width="2.20" height="9.66" fill="#d0d0d0"/>
<rect x="178.80" y="34.57" width="2.20" height="9.66" fill="#d0d0d0"/>
<line x1="32.50" y1="45.68" x2="32.50" y2="54.39" stroke="#505050" stroke-width="1.0"/>
<line x1="32.50" y1="45.68" x2="32.50" y2="54.39" stroke="#1a1a1a" stroke-width="1.0" stroke-dasharray="1.2 1.2"/>
<rect x="31.60" y="45.18" width="1.8" height="1" fill="#111"/>
<rect x="31.60" y="53.89" width="1.8" height="1" fill="#111"/>
<rect x="31.60" y="49.33" width="1.8" height="1.4" fill="#111"/>
<line x1="34.50" y1="45.71" x2="34.50" y2="54.42" stroke="#505050" stroke-width="1.0"/>
<line x1="34.50" y1="45.71" x2="34.50" y2="54.42" stroke="#1a1a1a" stroke-width="1.0" stroke-dasharray="1.2 1.2"/>
<rect x="33.60" y="45.21" width="1.8" height="1" fill="#111"/>
<rect x="33.60" y="53.92" width="1.8" height="1" fill="#111"/>
<rect x="33.60" y="49.36" width="1.8" height="1.4" fill="#111"/>
<line x1="37.50" y1="45.74" x2="37.50" y2="54.45" stroke="#505050" stroke-width="1.0"/>
<line x1="37.50" y1="45.74" x2="37.50" y2="54.45" stroke="#1a1a1a" stroke-width="1.0" stroke-dasharray="1.2 1.2"/>
<rect x="36.60" y="45.24" width="1.8" height="1" fill="#111"/>
<rect x="36.60" y="53.95" width="1.8" height="1" fill="#111"/>
<rect x="36.60" y="49.39" width="1.8" height="1.4" fill="#111"/>
<line x1="39.50" y1="45.77" x2="39.50" y2="54.48" stroke="#505050" stroke-width="1.0"/>
<line x1="39.50" y1="45.77" x2="39.50" y2="54.48" stroke="#1a1a1a" stroke-width="1.0" stroke-dasharray="1.2 1.2"/>
<rect x="38.60" y="45.27" width="1.8" height="1" fill="#111"/>
<rect x="38.60" y="53.98" width="1.8" height="1" fill="#111"/>
<rect x="38.60" y="49.43" width="1.8" height="1.4" fill="#111"/>
<line x1="42.50" y1="45.80" x2="42.50" y2="54.51" stroke="#505050" stroke-width="1.0"/>
<line x1="42.50" y1="45.80" x2="42.50" y2="54.51" stroke="#1a1a1a" stroke-width="1.0" stroke-dasharray="1.2 1.2"/>
<rect x="41.60" y="45.30" width="1.8" height="1" fill="#111"/>
<rect x="41.60" y="54.01" width="1.8" height="1" fill="#111"/>
<rect x="41.60" y="49.46" width="1.8" height="1.4" fill="#111"/>
<line x1="44.50" y1="45.83" x2="44.50" y2="54.54" stroke="#505050" stroke-width="1.0"/>
<line x1="44.50" y1="45.83" x2="44.50" y2="54.54" stroke="#1a1a1a" stroke-width="1.0" stroke-dasharray="1.2 1.2"/>
<rect x="43.60" y="45.33" width="1.8" height="1" fill="#111"/>
<rect x="43.60" y="54.04" width="1.8" height="1" fill="#111"/>
<rect x="43.60" y="49.49" width="1.8" height="1.4" fill="#111"/>
<line x1="47.50" y1="46.21" x2="47.50" y2="63.25" stroke="#505050" stroke-width="1.0"/>
<line x1="47.50" y1="46.21" x2="47.50" y2="63.25" stroke="#1a1a1a" stroke-width="1.0" stroke-dasharray="1.2 1.2"/>
<rect x="46.60" y="45.71" width="1.8" height="1" fill="#111"/>
<rect x="46.60" y="62.75" width="1.8" height="1" fill="#111"/>
<rect x="46.60" y="54.03" width="1.8" height="1.4" fill="#111"/>
<line x1="49.50" y1="52.84" x2="49.50" y2="66.09" stroke="#505050" stroke-width="1.0"/>
<line x1="49.50" y1="52.84" x2="49.50" y2="66.09" stroke="#1a1a1a" stroke-width="1.0" stroke-dasharray="1.2 1.2"/>
<rect x="48.60" y="52.34" width="1.8" height="1" fill="#111"/>
<rect x="48.60" y="65.59" width="1.8" height="1" fill="#111"/>
<rect x="48.60" y="58.77" width="1.8" height="1.4" fill="#111"/>
<line x1="52.50" y1="71.33" x2="52.50" y2="79.28" stroke="#505050" stroke-width="1.0"/>
<line x1="52.50" y1="71.33" x2="52.50" y2="79.28" stroke="#1a1a1a" stroke-width="1.0" stroke-dasharray="1.2 1.2"/>
<rect x="51.60" y="70.83" width="1.8" height="1" fill="#111"/>
<rect x="51.60" y="78.78" width="1.8" height="1" fill="#111"/>
<rect x="51.60" y="74.60" width="1.8" height="1.4" fill="#111"/>
<line x1="54.50" y1="83.94" x2="54.50" y2="91.89" stroke="#505050" stroke-width="1.0"/>
<line x1="54.50" y1="83.94" x2="54.50" y2="91.89" stroke="#1a1a1a" stroke-width="1.0" stroke-dasharray="1.2 1.2"/>
<rect x="53.60" y="83.44" width="1.8" height="1" fill="#111"/>
<rect x="53.60" y="91.39" width="1.8" height="1" fill="#111"/>
<rect x="53.60" y="87.22" width="1.8" height="1.4" fill="#111"/>
<line x1="57.50" y1="93.63" x2="57.50" y2="101.59" stroke="#505050" stroke-width="1.0"/>
<line x1="57.50" y1="93.63" x2="57.50" y2="101.59" stroke="#1a1a1a" stroke-width="1.0" stroke-dasharray="1.2 1.2"/>
<rect x="56.60" y="93.13" width="1.8" height="1" fill="#111"/>
<rect x="56.60" y="101.09" width="1.8" height="1" fill="#111"/>
<rect x="56.60" y="96.91" width="1.8" height="1.4" fill="#111"/>
<line x1="59.50" y1="100.71" x2="59.50" y2="108.66" stroke="#505050" stroke-width="1.0"/>
<line x1="59.50" y1="100.71" x2="59.50" y2="108.66" stroke="#1a1a1a" stroke-width="1.0" stroke-dasharray="1.2 1.2"/>
<rect x="58.60" y="100.21" width="1.8" height="1" fill="#111"/>
<rect x="58.60" y="108.16" width="1.8" height="1" fill="#111"/>
<rect x="58.60" y="103.99" width="1.8" height="1.4" fill="#111"/>
<line x1="62.50" y1="103.87" x2="62.50" y2="111.82" stroke="#505050" stroke-width="1.0"/>
<line x1="62.50" y1="103.87" x2="62.50" y2="111.82" stroke="#1a1a1a" stroke-width="1.0" stroke-dasharray="1.2 1.2"/>
<rect x="61.60" y="103.37" width="1.8" height="1" fill="#111"/>
<rect x="61.60" y="111.32" width="1.8" height="1" fill="#111"/>
<rect x="61.60" y="107.14" width="1.8" height="1.4" fill="#111"/>
<line x1="64.50" y1="105.63" x2="64.50" y2="113.58" stroke="#505050" stroke-width="1.0"/>
<line x1="64.50" y1="105.63" x2="64.50" y2="113.58" stroke="#1a1a1a" stroke-width="1.0" stroke-dasharray="1.2 1.2"/>
<rect x="63.60" y="105.13" width="1.8" height="1" fill="#111"/>
<rect x="63.60" y="113.08" width="1.8" height="1" fill="#111"/>
<rect x="63.60" y="108.91" width="1.8" height="1.4" fill="#111"/>
<line x1="67.50" y1="106.23" x2="67.50" y2="114.19" stroke="#505050" stroke-width="1.0"/>
<line x1="67.50" y1="106.23" x2="67.50" y2="114.19" stroke="#1a1a1a" stroke-width="1.0" stroke-dasharray="1.2 1.2"/>
<rect x="66.60" y="105.73" width="1.8" height="1" fill="#111"/>
<rect x="66.60" y="113.69" width="1.8" height="1" fill="#111"/>
<rect x="66.60" y="109.51" width="1.8" height="1.4" fill="#111"/>
<line x1="69.50" y1="106.33" x2="69.50" y2="114.28" stroke="#505050" stroke-width="1.0"/>
<line x1="69.50" y1="106.33" x2="69.50" y2="114.28" stroke="#1a1a1a" stroke-width="1.0" stroke-dasharray="1.2 1.2"/>
<rect x="68.60" y="105.83" width="1.8" height="1" fill="#111"/>
<rect x="68.60" y="113.78" width="1.8" height="1" fill="#111"/>
<rect x="68.60" y="109.60" width="1.8" height="1.4" fill="#111"/>
<line x1="72.50" y1="105.86" x2="72.50" y2="113.81" stroke="#505050" stroke-width="1.0"/>
<line x1="72.50" y1="105.86" x2="72.50" y2="113.81" stroke="#1a1a1a" stroke-width="1.0" stroke-dasharray="1.2 1.2"/>
<rect x="71.60" y="105.36" width="1.8" height="1" fill="#111"/>
<rect x="71.60" y="113.31" width="1.8" height="1" fill="#111"/>
<rect x="71.60" y="109.13" width="1.8" height="1.4" fill="#111"/>
<line x1="74.50" y1="104.91" x2="74.50" y2="112.86" stroke="#505050" stroke-width="1.0"/>
<line x1="74.50" y1="104.91" x2="74.50" y2="112.86" stroke="#1a1a1a" stroke-width="1.0" stroke-dasharray="1.2 1.2"/>
<rect x="73.60" y="104.41" width="1.8" height="1" fill="#111"/>
<rect x="73.60" y="112.36" width="1.8" height="1" fill="#111"/>
<rect x="73.60" y="108.18" width="1.8" height="1.4" fill="#111"/>
<line x1="77.50" y1="103.39" x2="77.50" y2="111.35" stroke="#505050" stroke-width="1.0"/>
<line x1="77.50" y1="103.39" x2="77.50" y2="111.35" stroke="#1a1a1a" stroke-width="1.0" stroke-dasharray="1.2 1.2"/>
<rect x="76.60" y="102.89" width="1.8" height="1" fill="#111"/>
<rect x="76.60" y="110.85" width="1.8" height="1" fill="#111"/>
<rect x="76.60" y="106.67" width="1.8" height="1.4" fill="#111"/>
<line x1="79.50" y1="101.03" x2="79.50" y2="110.68" stroke="#505050" stroke-width="1.0"/>
<line x1="79.50" y1="101.03" x2="79.50" y2="110.68" stroke="#1a1a1a" stroke-width="1.0" stroke-dasharray="1.2 1.2"/>
<rect x="78.60" y="100.53" width="1.8" height="1" fill="#111"/>
<rect x="78.60" y="110.18" width="1.8" height="1" fill="#111"/>
<rect x="78.60" y="105.16" width="1.8" height="1.4" fill="#111"/>
<line x1="82.50" y1="98.57" x2="82.50" y2="108.22" stroke="#505050" stroke-width="1.0"/>
<line x1="82.50" y1="98.57" x2="82.50" y2="108.22" stroke="#1a1a1a" stroke-width="1.0" stroke-dasharray="1.2 1.2"/>
<rect x="81.60" y="98.07" width="1.8" height="1" fill="#111"/>
<rect x="81.60" y="107.72" width="1.8" height="1" fill="#111"/>
<rect x="81.60" y="102.69" width="1.8" height="1.4" fill="#111"/>
<line x1="84.50" y1="96.10" x2="84.50" y2="105.76" stroke="#505050" stroke-width="1.0"/>
<line x1="84.50" y1="96.10" x2="84.50" y2="105.76" stroke="#1a1a1a" stroke-width="1.0" stroke-dasharray="1.2 1.2"/>
<rect x="83.60" y="95.60" width="1.8" height="1" fill="#111"/>
<rect x="83.60" y="105.26" width="1.8" height="1" fill="#111"/>
<rect x="83.60" y="100.23" width="1.8" height="1.4" fill="#111"/>
<line x1="87.50" y1="93.80" x2="87.50" y2="103.46" stroke="#505050" stroke-width="1.0"/>
<line x1="87.50" y1="93.80" x2="87.50" y2="103.46" stroke="#1a1a1a" stroke-width="1.0" stroke-dasharray="1.2 1.2"/>
<rect x="86.60" y="93.30" width="1.8" height="1" fill="#111"/>
<rect x="86.60" y="102.96" width="1.8" height="1" fill="#111"/>
<rect x="86.60" y="97.93" width="1.8" height="1.4" fill="#111"/>
<line x1="89.50" y1="91.50" x2="89.50" y2="101.15" stroke="#505050" stroke-width="1.0"/>
<line x1="89.50" y1="91.50" x2="89.50" y2="101.15" stroke="#1a1a1a" stroke-width="1.0" stroke-dasharray="1.2 1.2"/>
<rect x="88.60" y="91.00" width="1.8" height="1" fill="#111"/>
<rect x="88.60" y="100.65" width="1.8" height="1" fill="#111"/>
<rect x="88.60" y="95.63" width="1.8" height="1.4" fill="#111"/>
<line x1="92.50" y1="89.19" x2="92.50" y2="98.85" stroke="#505050" stroke-width="1.0"/>
<line x1="92.50" y1="89.19" x2="92.50" y2="98.85" stroke="#1a1a1a" stroke-width="1.0" stroke-dasharray="1.2 1.2"/>
<rect x="91.60" y="88.69" width="1.8" height="1" fill="#111"/>
<rect x="91.60" y="98.35" width="1.8" height="1" fill="#111"/>
<rect x="91.60" y="93.32" width="1.8" height="1.4" fill="#111"/>
<line x1="94.50" y1="86.68" x2="94.50" y2="96.34" stroke="#505050" stroke-width="1.0"/>
<line x1="94.50" y1="86.68" x2="94.50" y2="96.34" stroke="#1a1a1a" stroke-width="1.0" stroke-dasharray="1.2 1.2"/>
<rect x="93.60" y="86.18" width="1.8" height="1" fill="#111"/>
<rect x="93.60" y="95.84" width="1.8" height="1" fill="#111"/>
<rect x="93.60" y="90.81" width="1.8" height="1.4" fill="#111"/>
<line x1="97.50" y1="84.18" x2="97.50" y2="93.83" stroke="#505050" stroke-width="1.0"/>
<line x1="97.50" y1="84.18" x2="97.50" y2="93.83" stroke="#1a1a1a" stroke-width="1.0" stroke-dasharray="1.2 1.2"/>
<rect x="96.60" y="83.68" width="1.8" height="1" fill="#111"/>
<rect x="96.60" y="93.33" width="1.8" height="1" fill="#111"/>
<rect x="96.60" y="88.30" width="1.8" height="1.4" fill="#111"/>
<line x1="99.50" y1="81.13" x2="99.50" y2="90.78" stroke="#505050" stroke-width="1.0"/>
<line x1="99.50" y1="81.13" x2="99.50" y2="90.78" stroke="#1a1a1a" stroke-width="1.0" stroke-dasharray="1.2 1.2"/>
<rect x="98.60" y="80.63" width="1.8" height="1" fill="#111"/>
<rect x="98.60" y="90.28" width="1.8" height="1" fill="#111"/>
<rect x="98.60" y="85.25" width="1.8" height="1.4" fill="#111"/>
<line x1="102.50" y1="78.09" x2="102.50" y2="87.74" stroke="#505050" stroke-width="1.0"/>
<line x1="102.50" y1="78.09" x2="102.50" y2="87.74" stroke="#1a1a1a" stroke-width="1.0" stroke-dasharray="1.2 1.2"/>
<rect x="101.60" y="77.59" width="1.8" height="1" fill="#111"/>
<rect x="101.60" y="87.24" width="1.8" height="1" fill="#111"/>
<rect x="101.60" y="82.21" width="1.8" height="1.4" fill="#111"/>
<line x1="104.50" y1="75.09" x2="104.50" y2="84.74" stroke="#505050" stroke-width="1.0"/>
<line x1="104.50" y1="75.09" x2="104.50" y2="84.74" stroke="#1a1a1a" stroke-width="1.0" stroke-dasharray="1.2 1.2"/>
<rect x="103.60" y="74.59" width="1.8" height="1" fill="#111"/>
<rect x="103.60" y="84.24" width="1.8" height="1" fill="#111"/>
<rect x="103.60" y="79.22" width="1.8" height="1.4" fill="#111"/>
<line x1="107.50" y1="72.34" x2="107.50" y2="82.00" stroke="#505050" stroke-width="1.0"/>
<line x1="107.50" y1="72.34" x2="107.50" y2="82.00" stroke="#1a1a1a" stroke-width="1.0" stroke-dasharray="1.2 1.2"/>
<rect x="106.60" y="71.84" width="1.8" height="1" fill="#111"/>
<rect x="106.60" y="81.50" width="1.8" height="1" fill="#111"/>
<rect x="106.60" y="76.47" width="1.8" height="1.4" fill="#111"/>
<line x1="109.50" y1="69.60" x2="109.50" y2="79.25" stroke="#505050" stroke-width="1.0"/>
<line x1="109.50" y1="69.60" x2="109.50" y2="79.25" stroke="#1a1a1a" stroke-width="1.0" stroke-dasharray="1.2 1.2"/>
<rect x="108.60" y="69.10" width="1.8" height="1" fill="#111"/>
<rect x="108.60" y="78.75" width="1.8" height="1" fill="#111"/>
<rect x="108.60" y="73.72" width="1.8" height="1.4" fill="#111"/>
<line x1="112.50" y1="66.85" x2="112.50" y2="76.51" stroke="#505050" stroke-width="1.0"/>
<line x1="112.50" y1="66.85" x2="112.50" y2="76.51" stroke="#1a1a1a" stroke-width="1.0" stroke-dasharray="1.2 1.2"/>
<rect x="111.60" y="66.35" width="1.8" height="1" fill="#111"/>
<rect x="111.60" y="76.01" width="1.8" height="1" fill="#111"/>
<rect x="111.60" y="70.98" width="1.8" height="1.4" fill="#111"/>
<line x1="114.50" y1="64.11" x2="114.50" y2="73.76" stroke="#505050" stroke-width="1.0"/>
<line x1="114.50" y1="64.11" x2="114.50" y2="73.76" stroke="#1a1a1a" stroke-width="1.0" stroke-dasharray="1.2 1.2"/>
<rect x="113.60" y="63.61" width="1.8" height="1" fill="#111"/>
<rect x="113.60" y="73.26" width="1.8" height="1" fill="#111"/>
<rect x="113.60" y="68.23" width="1.8" height="1.4" fill="#111"/>
<line x1="117.50" y1="61.34" x2="117.50" y2="71.00" stroke="#505050" stroke-width="1.0"/>
<line x1="117.50" y1="61.34" x2="117.50" y2="71.00" stroke="#1a1a1a" stroke-width="1.0" stroke-dasharray="1.2 1.2"/>
<rect x="116.60" y="60.84" width="1.8" height="1" fill="#111"/>
<rect x="116.60" y="70.50" width="1.8" height="1" fill="#111"/>
<rect x="116.60" y="65.47" width="1.8" height="1.4" fill="#111"/>
<line x1="119.50" y1="58.58" x2="119.50" y2="68.24" stroke="#505050" stroke-width="1.0"/>
<line x1="119.50" y1="58.58" x2="119.50" y2="68.24" stroke="#1a1a1a" stroke-width="1.0" stroke-dasharray="1.2 1.2"/>
<rect x="118.60" y="58.08" width="1.8" height="1" fill="#111"/>
<rect x="118.60" y="67.74" width="1.8" height="1" fill="#111"/>
<rect x="118.60" y="62.71" width="1.8" height="1.4" fill="#111"/>
<line x1="122.50" y1="55.95" x2="122.50" y2="65.61" stroke="#505050" stroke-width="1.0"/>
<line x1="122.50" y1="55.95" x2="122.50" y2="65.61" stroke="#1a1a1a" stroke-width="1.0" stroke-dasharray="1.2 1.2"/>
<rect x="121.60" y="55.45" width="1.8" height="1" fill="#111"/>
<rect x="121.60" y="65.11" width="1.8" height="1" fill="#111"/>
<rect x="121.60" y="60.08" width="1.8" height="1.4" fill="#111"/>
<line x1="124.50" y1="53.41" x2="124.50" y2="63.06" stroke="#505050" stroke-width="1.0"/>
<line x1="124.50" y1="53.41" x2="124.50" y2="63.06" stroke="#1a1a1a" stroke-width="1.0" stroke-dasharray="1.2 1.2"/>
<rect x="123.60" y="52.91" width="1.8" height="1" fill="#111"/>
<rect x="123.60" y="62.56" width="1.8" height="1" fill="#111"/>
<rect x="123.60" y="57.54" width="1.8" height="1.4" fill="#111"/>
<line x1="127.50" y1="51.56" x2="127.50" y2="61.22" stroke="#505050" stroke-width="1.0"/>
<line x1="127.50" y1="51.56" x2="127.50" y2="61.22" stroke="#1a1a1a" stroke-width="1.0" stroke-dasharray="1.2 1.2"/>
<rect x="126.60" y="51.06" width="1.8" height="1" fill="#111"/>
<rect x="126.60" y="60.72" width="1.8" height="1" fill="#111"/>
<rect x="126.60" y="55.69" width="1.8" height="1.4" fill="#111"/>
<line x1="129.50" y1="49.72" x2="129.50" y2="59.37" stroke="#505050" stroke-width="1.0"/>
<line x1="129.50" y1="49.72" x2="129.50" y2="59.37" stroke="#1a1a1a" stroke-width="1.0" stroke-dasharray="1.2 1.2"/>
<rect x="128.60" y="49.22" width="1.8" height="1" fill="#111"/>
<rect x="128.60" y="58.87" width="1.8" height="1" fill="#111"/>
<rect x="128.60" y="53.84" width="1.8" height="1.4" fill="#111"/>
<line x1="132.50" y1="47.97" x2="132.50" y2="57.62" stroke="#505050" stroke-width="1.0"/>
<line x1="132.50" y1="47.97" x2="132.50" y2="57.62" stroke="#1a1a1a" stroke-width="1.0" stroke-dasharray="1.2 1.2"/>
<rect x="131.60" y="47.47" width="1.8" height="1" fill="#111"/>
<rect x="131.60" y="57.12" width="1.8" height="1" fill="#111"/>
<rect x="131.60" y="52.10" width="1.8" height="1.4" fill="#111"/>
<line x1="134.50" y1="46.43" x2="134.50" y2="56.09" stroke="#505050" stroke-width="1.0"/>
<line x1="134.50" y1="46.43" x2="134.50" y2="56.09" stroke="#1a1a1a" stroke-width="1.0" stroke-dasharray="1.2 1.2"/>
<rect x="133.60" y="45.93" width="1.8" height="1" fill="#111"/>
<rect x="133.60" y="55.59" width="1.8" height="1" fill="#111"/>
<rect x="133.60" y="50.56" width="1.8" height="1.4" fill="#111"/>
<line x1="137.50" y1="44.99" x2="137.50" y2="54.65" stroke="#505050" stroke-width="1.0"/>
<line x1="137.50" y1="44.99" x2="137.50" y2="54.65" stroke="#1a1a1a" stroke-width="1.0" stroke-dasharray="1.2 1.2"/>
<rect x="136.60" y="44.49" width="1.8" height="1" fill="#111"/>
<rect x="136.60" y="54.15" width="1.8" height="1" fill="#111"/>
<rect x="136.60" y="49.12" width="1.8" height="1.4" fill="#111"/>
<line x1="139.50" y1="43.70" x2="139.50" y2="53.36" stroke="#505050" stroke-width="1.0"/>
<line x1="139.50" y1="43.70" x2="139.50" y2="53.36" stroke="#1a1a1a" stroke-width="1.0" stroke-dasharray="1.2 1.2"/>
<rect x="138.60" y="43.20" width="1.8" height="1" fill="#111"/>
<rect x="138.60" y="52.86" width="1.8" height="1" fill="#111"/>
<rect x="138.60" y="47.83" width="1.8" height="1.4" fill="#111"/>
<line x1="142.50" y1="42.52" x2="142.50" y2="52.18" stroke="#505050" stroke-width="1.0"/>
<line x1="142.50" y1="42.52" x2="142.50" y2="52.18" stroke="#1a1a1a" stroke-width="1.0" stroke-dasharray="1.2 1.2"/>
<rect x="141.60" y="42.02" width="1.8" height="1" fill="#111"/>
<rect x="141.60" y="51.68" width="1.8" height="1" fill="#111"/>
<rect x="141.60" y="46.65" width="1.8" height="1.4" fill="#111"/>
<line x1="144.50" y1="41.76" x2="144.50" y2="51.42" stroke="#505050" stroke-width="1.0"/>
<line x1="144.50" y1="41.76" x2="144.50" y2="51.42" stroke="#1a1a1a" stroke-width="1.0" stroke-dasharray="1.2 1.2"/>
<rect x="143.60" y="41.26" width="1.8" height="1" fill="#111"/>
<rect x="143.60" y="50.92" width="1.8" height="1" fill="#111"/>
<rect x="143.60" y="45.89" width="1.8" height="1.4" fill="#111"/>
<line x1="147.50" y1="41.01" x2="147.50" y2="50.66" stroke="#505050" stroke-width="1.0"/>
<line x1="147.50" y1="41.01" x2="147.50" y2="50.66" stroke="#1a1a1a" stroke-width="1.0" stroke-dasharray="1.2 1.2"/>
<rect x="146.60" y="40.51" width="1.8" height="1" fill="#111"/>
<rect x="146.60" y="50.16" width="1.8" height="1" fill="#111"/>
<rect x="146.60" y="45.13" width="1.8" height="1.4" fill="#111"/>
<line x1="149.50" y1="40.25" x2="149.50" y2="49.91" stroke="#505050" stroke-width="1.0"/>
<line x1="149.50" y1="40.25" x2="149.50" y2="49.91" stroke="#1a1a1a" stroke-width="1.0" stroke-dasharray="1.2 1.2"/>
<rect x="148.60" y="39.75" width="1.8" height="1" fill="#111"/>
<rect x="148.60" y="49.41" width="1.8" height="1" fill="#111"/>
<rect x="148.60" y="44.38" width="1.8" height="1.4" fill="#111"/>
<line x1="152.50" y1="39.49" x2="152.50" y2="49.15" stroke="#505050" stroke-width="1.0"/>
<line x1="152.50" y1="39.49" x2="152.50" y2="49.15" stroke="#1a1a1a" stroke-width="1.0" stroke-dasharray="1.2 1.2"/>
<rect x="151.60" y="38.99" width="1.8" height="1" fill="#111"/>
<rect x="151.60" y="48.65" width="1.8" height="1" fill="#111"/>
<rect x="151.60" y="43.62" width="1.8" height="1.4" fill="#111"/>
<line x1="154.50" y1="38.73" x2="154.50" y2="48.39" stroke="#505050" stroke-width="1.0"/>
<line x1="154.50" y1="38.73" x2="154.50" y2="48.39" stroke="#1a1a1a" stroke-width="1.0" stroke-dasharray="1.2 1.2"/>
<rect x="153.60" y="38.23" width="1.8" height="1" fill="#111"/>
<rect x="153.60" y="47.89" width="1.8" height="1" fill="#111"/>
<rect x="153.60" y="42.86" width="1.8" height="1.4" fill="#111"/>
<line x1="157.50" y1="38.24" x2="157.50" y2="47.90" stroke="#505050" stroke-width="1.0"/>
<line x1="157.50" y1="38.24" x2="157.50" y2="47.90" stroke="#1a1a1a" stroke-width="1.0" stroke-dasharray="1.2 1.2"/>
<rect x="156.60" y="37.74" width="1.8" height="1" fill="#111"/>
<rect x="156.60" y="47.40" width="1.8" height="1" fill="#111"/>
<rect x="156.60" y="42.37" width="1.8" height="1.4" fill="#111"/>
<line x1="159.50" y1="37.75" x2="159.50" y2="47.41" stroke="#505050" stroke-width="1.0"/>
<line x1="159.50" y1="37.75" x2="159.50" y2="47.41" stroke="#1a1a1a" stroke-width="1.0" stroke-dasharray="1.2 1.2"/>
<rect x="158.60" y="37.25" width="1.8" height="1" fill="#111"/>
<rect x="158.60" y="46.91" width="1.8" height="1" fill="#111"/>
<rect x="158.60" y="41.88" width="1.8" height="1.4" fill="#111"/>
<line x1="162.50" y1="37.26" x2="162.50" y2="46.91" stroke="#505050" stroke-width="1.0"/>
<line x1="162.50" y1="37.26" x2="162.50" y2="46.91" stroke="#1a1a1a" stroke-width="1.0" stroke-dasharray="1.2 1.2"/>
<rect x="161.60" y="36.76" width="1.8" height="1" fill="#111"/>
<rect x="161.60" y="46.41" width="1.8" height="1" fill="#111"/>
<rect x="161.60" y="41.39" width="1.8" height="1.4" fill="#111"/>
<line x1="164.50" y1="36.77" x2="164.50" y2="46.42" stroke="#505050" stroke-width="1.0"/>
<line x1="164.50" y1="36.77" x2="164.50" y2="46.42" stroke="#1a1a1a" stroke-width="1.0" stroke-dasharray="1.2 1.2"/>
<rect x="163.60" y="36.27" width="1.8" height="1" fill="#111"/>
<rect x="163.60" y="45.92" width="1.8" height="1" fill="#111"/>
<rect x="163.60" y="40.89" width="1.8" height="1.4" fill="#111"/>
<line x1="167.50" y1="36.27" x2="167.50" y2="45.93" stroke="#505050" stroke-width="1.0"/>
<line x1="167.50" y1="36.27" x2="167.50" y2="45.93" stroke="#1a1a1a" stroke-width="1.0" stroke-dasharray="1.2 1.2"/>
<rect x="166.60" y="35.77" width="1.8" height="1" fill="#111"/>
<rect x="166.60" y="45.43" width="1.8" height="1" fill="#111"/>
<rect x="166.60" y="40.40" width="1.8" height="1.4" fill="#111"/>
<line x1="169.50" y1="35.93" x2="169.50" y2="45.59" stroke="#505050" stroke-width="1.0"/>
<line x1="169.50" y1="35.93" x2="169.50" y2="45.59" stroke="#1a1a1a" stroke-width="1.0" stroke-dasharray="1.2 1.2"/>
<rect x="168.60" y="35.43" width="1.8" height="1" fill="#111"/>
<rect x="168.60" y="45.09" width="1.8" height="1" fill="#111"/>
<rect x="168.60" y="40.06" width="1.8" height="1.4" fill="#111"/>
<line x1="172.50" y1="35.59" x2="172.50" y2="45.25" stroke="#505050" stroke-width="1.0"/>
<line x1="172.50" y1="35.59" x2="172.50" y2="45.25" stroke="#1a1a1a" stroke-width="1.0" stroke-dasharray="1.2 1.2"/>
<rect x="171.60" y="35.09" width="1.8" height="1" fill="#111"/>
<rect x="171.60" y="44.75" width="1.8" height="1" fill="#111"/>
<rect x="171.60" y="39.72" width="1.8" height="1.4" fill="#111"/>
<line x1="174.50" y1="35.25" x2="174.50" y2="44.91" stroke="#505050" stroke-width="1.0"/>
<line x1="174.50" y1="35.25" x2="174.50" y2="44.91" stroke="#1a1a1a" stroke-width="1.0" stroke-dasharray="1.2 1.2"/>
<rect x="173.60" y="34.75" width="1.8" height="1" fill="#111"/>
<rect x="173.60" y="44.41" width="1.8" height="1" fill="#111"/>
<rect x="173.60" y="39.38" width="1.8" height="1.4" fill="#111"/>
<line x1="177.50" y1="34.91" x2="177.50" y2="44.57" stroke="#505050" stroke-width="1.0"/>
<line x1="177.50" y1="34.91" x2="177.50" y2="44.57" stroke="#1a1a1a" stroke-width="1.0" stroke-dasharray="1.2 1.2"/>
<rect x="176.60" y="34.41" width="1.8" height="1" fill="#111"/>
<rect x="176.60" y="44.07" width="1.8" height="1" fill="#111"/>
<rect x="176.60" y="39.04" width="1.8" height="1.4" fill="#111"/>
<line x1="179.50" y1="34.57" x2="179.50" y2="44.23" stroke="#505050" stroke-width="1.0"/>
<line x1="179.50" y1="34.57" x2="179.50" y2="44.23" stroke="#1a1a1a" stroke-width="1.0" stroke-dasharray="1.2 1.2"/>
<rect x="178.60" y="34.07" width="1.8" height="1" fill="#111"/>
<rect x="178.60" y="43.73" width="1.8" height="1" fill="#111"/>
<rect x="178.60" y="38.70" width="1.8" height="1.4" fill="#111"/>
<text x="78.40" y="72.20" font-size="7.7" font-weight="bold" text-anchor="start" fill="#000" stroke="#000" stroke-width="0.45">APC</text>
<text x="90.00" y="112.80" font-size="7.9" font-weight="bold" text-anchor="start" fill="#000" stroke="#000" stroke-width="0.45">FXa</text>
<line x1="46.40" y1="26.30" x2="46.40" y2="35.50" stroke="#000" stroke-width="1.8"/>
<polygon points="43.3,34.6 49.6,34.6 46.4,41.9" fill="#000"/>
<line x1="243.50" y1="21.00" x2="243.50" y2="121.00" stroke="#2a2a2a" stroke-width="1.0"/>
<line x1="240.90" y1="21.30" x2="243.50" y2="21.30" stroke="#2a2a2a" stroke-width="0.9"/>
<text x="240.10" y="23.80" font-size="7.2" font-weight="bold" text-anchor="end" fill="#000" stroke="#000" stroke-width="0.45">80</text>
<line x1="240.90" y1="46.10" x2="243.50" y2="46.10" stroke="#2a2a2a" stroke-width="0.9"/>
<text x="240.10" y="48.60" font-size="7.2" font-weight="bold" text-anchor="end" fill="#000" stroke="#000" stroke-width="0.45">60</text>
<line x1="240.90" y1="70.90" x2="243.50" y2="70.90" stroke="#2a2a2a" stroke-width="0.9"/>
<text x="240.10" y="73.40" font-size="7.2" font-weight="bold" text-anchor="end" fill="#000" stroke="#000" stroke-width="0.45">40</text>
<line x1="240.90" y1="95.70" x2="243.50" y2="95.70" stroke="#2a2a2a" stroke-width="0.9"/>
<text x="240.10" y="98.20" font-size="7.2" font-weight="bold" text-anchor="end" fill="#000" stroke="#000" stroke-width="0.45">20</text>
<line x1="240.90" y1="120.50" x2="243.50" y2="120.50" stroke="#2a2a2a" stroke-width="0.9"/>
<text x="240.10" y="123.00" font-size="7.2" font-weight="bold" text-anchor="end" fill="#000" stroke="#000" stroke-width="0.45">0</text>
<line x1="243.00" y1="120.50" x2="299.70" y2="120.50" stroke="#2a2a2a" stroke-width="1.0"/>
<line x1="252.60" y1="120.50" x2="252.60" y2="122.50" stroke="#2a2a2a" stroke-width="0.9"/>
<line x1="271.45" y1="120.50" x2="271.45" y2="122.50" stroke="#2a2a2a" stroke-width="0.9"/>
<line x1="290.30" y1="120.50" x2="290.30" y2="122.50" stroke="#2a2a2a" stroke-width="0.9"/>
<line x1="252.60" y1="48.58" x2="252.60" y2="42.26" stroke="#333" stroke-width="1.1"/>
<line x1="249.72" y1="42.26" x2="255.48" y2="42.26" stroke="#333" stroke-width="1.1"/>
<rect x="246.20" y="48.58" width="12.80" height="71.92" fill="#fff" stroke="#383838" stroke-width="1.3"/>
<line x1="271.45" y1="115.42" x2="271.45" y2="111.45" stroke="#333" stroke-width="1.1"/>
<line x1="268.82" y1="111.45" x2="274.08" y2="111.45" stroke="#333" stroke-width="1.1"/>
<rect x="265.60" y="115.42" width="11.70" height="5.08" fill="#cdcdcd" stroke="#383838" stroke-width="1.3"/>
<line x1="290.30" y1="54.66" x2="290.30" y2="52.55" stroke="#333" stroke-width="1.1"/>
<line x1="287.55" y1="52.55" x2="293.04" y2="52.55" stroke="#333" stroke-width="1.1"/>
<rect x="284.20" y="54.66" width="12.20" height="65.84" fill="#cdcdcd" stroke="#383838" stroke-width="1.3"/>
<text x="254.30" y="129.70" font-size="7.8" font-weight="bold" text-anchor="end" transform="rotate(-45 254.30 129.70)" fill="#000" stroke="#000" stroke-width="0.45">FXa</text>
<text x="273.15" y="129.70" font-size="7.8" font-weight="bold" text-anchor="end" transform="rotate(-45 273.15 129.70)" fill="#000" stroke="#000" stroke-width="0.45">APC</text>
<text x="292.00" y="129.70" font-size="7.8" font-weight="bold" text-anchor="end" transform="rotate(-45 292.00 129.70)" fill="#000" stroke="#000" stroke-width="0.45">IIa</text>
<text x="224.30" y="69.00" font-size="7.7" font-weight="bold" text-anchor="middle" transform="rotate(-90 224.30 69.00)" textLength="78.30" lengthAdjust="spacingAndGlyphs" fill="#000" stroke="#000" stroke-width="0.45">Barrier disruption (%)</text>
<line x1="363.80" y1="21.60" x2="363.80" y2="121.70" stroke="#2a2a2a" stroke-width="1.0"/>
<line x1="361.20" y1="30.40" x2="363.80" y2="30.40" stroke="#2a2a2a" stroke-width="0.9"/>
<text x="360.40" y="32.90" font-size="7.1" font-weight="bold" text-anchor="end" fill="#000" stroke="#000" stroke-width="0.45">100</text>
<line x1="361.20" y1="48.56" x2="363.80" y2="48.56" stroke="#2a2a2a" stroke-width="0.9"/>
<text x="360.40" y="51.06" font-size="7.1" font-weight="bold" text-anchor="end" fill="#000" stroke="#000" stroke-width="0.45">90</text>
<line x1="361.20" y1="66.72" x2="363.80" y2="66.72" stroke="#2a2a2a" stroke-width="0.9"/>
<text x="360.40" y="69.22" font-size="7.1" font-weight="bold" text-anchor="end" fill="#000" stroke="#000" stroke-width="0.45">80</text>
<line x1="361.20" y1="84.88" x2="363.80" y2="84.88" stroke="#2a2a2a" stroke-width="0.9"/>
<text x="360.40" y="87.38" font-size="7.1" font-weight="bold" text-anchor="end" fill="#000" stroke="#000" stroke-width="0.45">70</text>
<line x1="361.20" y1="103.04" x2="363.80" y2="103.04" stroke="#2a2a2a" stroke-width="0.9"/>
<text x="360.40" y="105.54" font-size="7.1" font-weight="bold" text-anchor="end" fill="#000" stroke="#000" stroke-width="0.45">60</text>
<line x1="361.20" y1="121.20" x2="363.80" y2="121.20" stroke="#2a2a2a" stroke-width="0.9"/>
<text x="360.40" y="123.70" font-size="7.1" font-weight="bold" text-anchor="end" fill="#000" stroke="#000" stroke-width="0.45">50</text>
<line x1="363.30" y1="121.20" x2="513.30" y2="121.20" stroke="#2a2a2a" stroke-width="1.0"/>
<line x1="363.80" y1="121.20" x2="363.80" y2="123.20" stroke="#2a2a2a" stroke-width="0.9"/>
<text x="363.80" y="131.60" font-size="7.2" font-weight="bold" text-anchor="middle" fill="#000" stroke="#000" stroke-width="0.45">180</text>
<line x1="385.05" y1="121.20" x2="385.05" y2="123.20" stroke="#2a2a2a" stroke-width="0.9"/>
<text x="385.05" y="131.60" font-size="7.2" font-weight="bold" text-anchor="middle" fill="#000" stroke="#000" stroke-width="0.45">190</text>
<line x1="406.30" y1="121.20" x2="406.30" y2="123.20" stroke="#2a2a2a" stroke-width="0.9"/>
<text x="406.30" y="131.60" font-size="7.2" font-weight="bold" text-anchor="middle" fill="#000" stroke="#000" stroke-width="0.45">200</text>
<line x1="427.55" y1="121.20" x2="427.55" y2="123.20" stroke="#2a2a2a" stroke-width="0.9"/>
<text x="427.55" y="131.60" font-size="7.2" font-weight="bold" text-anchor="middle" fill="#000" stroke="#000" stroke-width="0.45">210</text>
<line x1="448.80" y1="121.20" x2="448.80" y2="123.20" stroke="#2a2a2a" stroke-width="0.9"/>
<text x="448.80" y="131.60" font-size="7.2" font-weight="bold" text-anchor="middle" fill="#000" stroke="#000" stroke-width="0.45">220</text>
<line x1="470.05" y1="121.20" x2="470.05" y2="123.20" stroke="#2a2a2a" stroke-width="0.9"/>
<text x="470.05" y="131.60" font-size="7.2" font-weight="bold" text-anchor="middle" fill="#000" stroke="#000" stroke-width="0.45">230</text>
<line x1="491.30" y1="121.20" x2="491.30" y2="123.20" stroke="#2a2a2a" stroke-width="0.9"/>
<text x="491.30" y="131.60" font-size="7.2" font-weight="bold" text-anchor="middle" fill="#000" stroke="#000" stroke-width="0.45">240</text>
<line x1="512.55" y1="121.20" x2="512.55" y2="123.20" stroke="#2a2a2a" stroke-width="0.9"/>
<text x="512.55" y="131.60" font-size="7.2" font-weight="bold" text-anchor="middle" fill="#000" stroke="#000" stroke-width="0.45">250</text>
<text x="438.50" y="142.20" font-size="7.8" font-weight="bold" text-anchor="middle" textLength="38.20" lengthAdjust="spacingAndGlyphs" fill="#000" stroke="#000" stroke-width="0.45">Time (min)</text>
<text x="342.70" y="69.50" font-size="7.7" font-weight="bold" text-anchor="middle" transform="rotate(-90 342.70 69.50)" textLength="50.40" lengthAdjust="spacingAndGlyphs" fill="#000" stroke="#000" stroke-width="0.45">Cell index (%)</text>
<rect x="371.50" y="26.77" width="1.60" height="9.08" fill="#d4d4d4"/>
<rect x="373.62" y="26.22" width="1.60" height="12.71" fill="#d4d4d4"/>
<rect x="375.75" y="26.22" width="1.60" height="16.34" fill="#d4d4d4"/>
<rect x="377.88" y="26.77" width="1.60" height="21.79" fill="#d4d4d4"/>
<rect x="380.00" y="27.68" width="1.60" height="29.06" fill="#d4d4d4"/>
<rect x="382.12" y="31.31" width="1.60" height="32.69" fill="#d4d4d4"/>
<rect x="384.25" y="36.76" width="1.60" height="34.50" fill="#d4d4d4"/>
<rect x="386.38" y="43.11" width="1.60" height="34.50" fill="#d4d4d4"/>
<rect x="388.50" y="50.38" width="1.60" height="32.69" fill="#d4d4d4"/>
<rect x="390.62" y="58.55" width="1.60" height="29.06" fill="#d4d4d4"/>
<rect x="392.75" y="66.72" width="1.60" height="25.42" fill="#d4d4d4"/>
<rect x="394.88" y="74.35" width="1.60" height="21.79" fill="#d4d4d4"/>
<rect x="397.00" y="81.61" width="1.60" height="18.16" fill="#d4d4d4"/>
<rect x="399.12" y="88.15" width="1.60" height="14.53" fill="#d4d4d4"/>
<rect x="401.25" y="92.69" width="1.60" height="11.99" fill="#d4d4d4"/>
<rect x="403.38" y="94.76" width="1.60" height="11.84" fill="#d4d4d4"/>
<rect x="405.50" y="95.67" width="1.60" height="11.70" fill="#d4d4d4"/>
<rect x="407.62" y="95.99" width="1.60" height="11.55" fill="#d4d4d4"/>
<rect x="409.75" y="96.07" width="1.60" height="11.40" fill="#d4d4d4"/>
<rect x="411.88" y="95.34" width="1.60" height="11.26" fill="#d4d4d4"/>
<rect x="414.00" y="94.20" width="1.60" height="11.62" fill="#d4d4d4"/>
<rect x="416.12" y="92.81" width="1.60" height="11.99" fill="#d4d4d4"/>
<rect x="418.25" y="91.42" width="1.60" height="12.35" fill="#d4d4d4"/>
<rect x="420.38" y="89.24" width="1.60" height="12.71" fill="#d4d4d4"/>
<rect x="422.50" y="87.06" width="1.60" height="13.08" fill="#d4d4d4"/>
<rect x="424.62" y="84.47" width="1.60" height="13.53" fill="#d4d4d4"/>
<rect x="426.75" y="81.88" width="1.60" height="13.98" fill="#d4d4d4"/>
<rect x="428.88" y="78.97" width="1.60" height="14.44" fill="#d4d4d4"/>
<rect x="431.00" y="76.06" width="1.60" height="14.89" fill="#d4d4d4"/>
<rect x="433.12" y="73.18" width="1.60" height="14.89" fill="#d4d4d4"/>
<rect x="435.25" y="70.22" width="1.60" height="14.89" fill="#d4d4d4"/>
<rect x="437.38" y="67.53" width="1.60" height="14.89" fill="#d4d4d4"/>
<rect x="439.50" y="64.90" width="1.60" height="14.89" fill="#d4d4d4"/>
<rect x="441.62" y="62.65" width="1.60" height="14.89" fill="#d4d4d4"/>
<rect x="443.75" y="60.40" width="1.60" height="14.89" fill="#d4d4d4"/>
<rect x="445.88" y="58.24" width="1.60" height="14.89" fill="#d4d4d4"/>
<rect x="448.00" y="56.16" width="1.60" height="14.89" fill="#d4d4d4"/>
<rect x="450.12" y="54.24" width="1.60" height="14.59" fill="#d4d4d4"/>
<rect x="452.25" y="52.45" width="1.60" height="14.29" fill="#d4d4d4"/>
<rect x="454.38" y="50.72" width="1.60" height="13.98" fill="#d4d4d4"/>
<rect x="456.50" y="48.98" width="1.60" height="13.68" fill="#d4d4d4"/>
<rect x="458.62" y="47.40" width="1.60" height="13.38" fill="#d4d4d4"/>
<rect x="460.75" y="45.81" width="1.60" height="13.08" fill="#d4d4d4"/>
<rect x="462.88" y="44.65" width="1.60" height="12.26" fill="#d4d4d4"/>
<rect x="465.00" y="43.57" width="1.60" height="11.44" fill="#d4d4d4"/>
<rect x="467.12" y="42.79" width="1.60" height="10.62" fill="#d4d4d4"/>
<rect x="469.25" y="42.02" width="1.60" height="9.81" fill="#d4d4d4"/>
<rect x="471.38" y="41.14" width="1.60" height="9.52" fill="#d4d4d4"/>
<rect x="473.50" y="40.26" width="1.60" height="9.23" fill="#d4d4d4"/>
<rect x="475.62" y="39.25" width="1.60" height="8.93" fill="#d4d4d4"/>
<rect x="477.75" y="38.18" width="1.60" height="8.64" fill="#d4d4d4"/>
<rect x="479.88" y="37.12" width="1.60" height="8.35" fill="#d4d4d4"/>
<rect x="482.00" y="36.10" width="1.60" height="8.35" fill="#d4d4d4"/>
<rect x="484.12" y="35.09" width="1.60" height="8.35" fill="#d4d4d4"/>
<rect x="486.25" y="34.10" width="1.60" height="8.35" fill="#d4d4d4"/>
<rect x="488.38" y="33.16" width="1.60" height="8.35" fill="#d4d4d4"/>
<rect x="490.50" y="32.22" width="1.60" height="8.35" fill="#d4d4d4"/>
<rect x="492.62" y="31.53" width="1.60" height="8.35" fill="#d4d4d4"/>
<rect x="494.75" y="30.84" width="1.60" height="8.35" fill="#d4d4d4"/>
<rect x="496.88" y="30.15" width="1.60" height="8.35" fill="#d4d4d4"/>
<rect x="499.00" y="29.46" width="1.60" height="8.35" fill="#d4d4d4"/>
<rect x="501.12" y="28.77" width="1.60" height="8.35" fill="#d4d4d4"/>
<rect x="503.25" y="28.18" width="1.60" height="8.57" fill="#d4d4d4"/>
<rect x="505.38" y="27.60" width="1.60" height="8.79" fill="#d4d4d4"/>
<rect x="507.50" y="27.02" width="1.60" height="9.01" fill="#d4d4d4"/>
<rect x="509.62" y="26.44" width="1.60" height="9.23" fill="#d4d4d4"/>
<rect x="511.75" y="25.86" width="1.60" height="9.44" fill="#d4d4d4"/>
<line x1="372.50" y1="26.77" x2="372.50" y2="35.85" stroke="#555" stroke-width="1.0"/>
<rect x="371.75" y="26.27" width="1.5" height="1" fill="#111"/>
<rect x="371.75" y="35.35" width="1.5" height="1" fill="#111"/>
<rect x="371.75" y="30.66" width="1.5" height="1.3" fill="#111"/>
<line x1="374.50" y1="26.22" x2="374.50" y2="38.94" stroke="#555" stroke-width="1.0"/>
<rect x="373.75" y="25.72" width="1.5" height="1" fill="#111"/>
<rect x="373.75" y="38.44" width="1.5" height="1" fill="#111"/>
<rect x="373.75" y="31.93" width="1.5" height="1.3" fill="#111"/>
<line x1="376.50" y1="26.22" x2="376.50" y2="42.57" stroke="#555" stroke-width="1.0"/>
<rect x="375.75" y="25.72" width="1.5" height="1" fill="#111"/>
<rect x="375.75" y="42.07" width="1.5" height="1" fill="#111"/>
<rect x="375.75" y="33.75" width="1.5" height="1.3" fill="#111"/>
<line x1="378.50" y1="26.77" x2="378.50" y2="48.56" stroke="#555" stroke-width="1.0"/>
<rect x="377.75" y="26.27" width="1.5" height="1" fill="#111"/>
<rect x="377.75" y="48.06" width="1.5" height="1" fill="#111"/>
<rect x="377.75" y="37.01" width="1.5" height="1.3" fill="#111"/>
<line x1="380.50" y1="27.68" x2="380.50" y2="56.73" stroke="#555" stroke-width="1.0"/>
<rect x="379.75" y="27.18" width="1.5" height="1" fill="#111"/>
<rect x="379.75" y="56.23" width="1.5" height="1" fill="#111"/>
<rect x="379.75" y="41.55" width="1.5" height="1.3" fill="#111"/>
<line x1="382.50" y1="31.31" x2="382.50" y2="64.00" stroke="#555" stroke-width="1.0"/>
<rect x="381.75" y="30.81" width="1.5" height="1" fill="#111"/>
<rect x="381.75" y="63.50" width="1.5" height="1" fill="#111"/>
<rect x="381.75" y="47.00" width="1.5" height="1.3" fill="#111"/>
<line x1="385.50" y1="36.76" x2="385.50" y2="71.26" stroke="#555" stroke-width="1.0"/>
<rect x="384.75" y="36.26" width="1.5" height="1" fill="#111"/>
<rect x="384.75" y="70.76" width="1.5" height="1" fill="#111"/>
<rect x="384.75" y="53.36" width="1.5" height="1.3" fill="#111"/>
<line x1="387.50" y1="43.11" x2="387.50" y2="77.62" stroke="#555" stroke-width="1.0"/>
<rect x="386.75" y="42.61" width="1.5" height="1" fill="#111"/>
<rect x="386.75" y="77.12" width="1.5" height="1" fill="#111"/>
<rect x="386.75" y="59.71" width="1.5" height="1.3" fill="#111"/>
<line x1="389.50" y1="50.38" x2="389.50" y2="83.06" stroke="#555" stroke-width="1.0"/>
<rect x="388.75" y="49.88" width="1.5" height="1" fill="#111"/>
<rect x="388.75" y="82.56" width="1.5" height="1" fill="#111"/>
<rect x="388.75" y="66.07" width="1.5" height="1.3" fill="#111"/>
<line x1="391.50" y1="58.55" x2="391.50" y2="87.60" stroke="#555" stroke-width="1.0"/>
<rect x="390.75" y="58.05" width="1.5" height="1" fill="#111"/>
<rect x="390.75" y="87.10" width="1.5" height="1" fill="#111"/>
<rect x="390.75" y="72.43" width="1.5" height="1.3" fill="#111"/>
<line x1="393.50" y1="66.72" x2="393.50" y2="92.14" stroke="#555" stroke-width="1.0"/>
<rect x="392.75" y="66.22" width="1.5" height="1" fill="#111"/>
<rect x="392.75" y="91.64" width="1.5" height="1" fill="#111"/>
<rect x="392.75" y="78.78" width="1.5" height="1.3" fill="#111"/>
<line x1="395.50" y1="74.35" x2="395.50" y2="96.14" stroke="#555" stroke-width="1.0"/>
<rect x="394.75" y="73.85" width="1.5" height="1" fill="#111"/>
<rect x="394.75" y="95.64" width="1.5" height="1" fill="#111"/>
<rect x="394.75" y="84.59" width="1.5" height="1.3" fill="#111"/>
<line x1="397.50" y1="81.61" x2="397.50" y2="99.77" stroke="#555" stroke-width="1.0"/>
<rect x="396.75" y="81.11" width="1.5" height="1" fill="#111"/>
<rect x="396.75" y="99.27" width="1.5" height="1" fill="#111"/>
<rect x="396.75" y="90.04" width="1.5" height="1.3" fill="#111"/>
<line x1="399.50" y1="88.15" x2="399.50" y2="102.68" stroke="#555" stroke-width="1.0"/>
<rect x="398.75" y="87.65" width="1.5" height="1" fill="#111"/>
<rect x="398.75" y="102.18" width="1.5" height="1" fill="#111"/>
<rect x="398.75" y="94.76" width="1.5" height="1.3" fill="#111"/>
<line x1="402.50" y1="92.69" x2="402.50" y2="104.67" stroke="#555" stroke-width="1.0"/>
<rect x="401.75" y="92.19" width="1.5" height="1" fill="#111"/>
<rect x="401.75" y="104.17" width="1.5" height="1" fill="#111"/>
<rect x="401.75" y="98.03" width="1.5" height="1.3" fill="#111"/>
<line x1="404.50" y1="94.76" x2="404.50" y2="106.60" stroke="#555" stroke-width="1.0"/>
<rect x="403.75" y="94.26" width="1.5" height="1" fill="#111"/>
<rect x="403.75" y="106.10" width="1.5" height="1" fill="#111"/>
<rect x="403.75" y="100.03" width="1.5" height="1.3" fill="#111"/>
<line x1="406.50" y1="95.67" x2="406.50" y2="107.36" stroke="#555" stroke-width="1.0"/>
<rect x="405.75" y="95.17" width="1.5" height="1" fill="#111"/>
<rect x="405.75" y="106.86" width="1.5" height="1" fill="#111"/>
<rect x="405.75" y="100.87" width="1.5" height="1.3" fill="#111"/>
<line x1="408.50" y1="95.99" x2="408.50" y2="107.54" stroke="#555" stroke-width="1.0"/>
<rect x="407.75" y="95.49" width="1.5" height="1" fill="#111"/>
<rect x="407.75" y="107.04" width="1.5" height="1" fill="#111"/>
<rect x="407.75" y="101.12" width="1.5" height="1.3" fill="#111"/>
<line x1="410.50" y1="96.07" x2="410.50" y2="107.47" stroke="#555" stroke-width="1.0"/>
<rect x="409.75" y="95.57" width="1.5" height="1" fill="#111"/>
<rect x="409.75" y="106.97" width="1.5" height="1" fill="#111"/>
<rect x="409.75" y="101.12" width="1.5" height="1.3" fill="#111"/>
<line x1="412.50" y1="95.34" x2="412.50" y2="106.60" stroke="#555" stroke-width="1.0"/>
<rect x="411.75" y="94.84" width="1.5" height="1" fill="#111"/>
<rect x="411.75" y="106.10" width="1.5" height="1" fill="#111"/>
<rect x="411.75" y="100.32" width="1.5" height="1.3" fill="#111"/>
<line x1="414.50" y1="94.20" x2="414.50" y2="105.82" stroke="#555" stroke-width="1.0"/>
<rect x="413.75" y="93.70" width="1.5" height="1" fill="#111"/>
<rect x="413.75" y="105.32" width="1.5" height="1" fill="#111"/>
<rect x="413.75" y="99.36" width="1.5" height="1.3" fill="#111"/>
<line x1="416.50" y1="92.81" x2="416.50" y2="104.80" stroke="#555" stroke-width="1.0"/>
<rect x="415.75" y="92.31" width="1.5" height="1" fill="#111"/>
<rect x="415.75" y="104.30" width="1.5" height="1" fill="#111"/>
<rect x="415.75" y="98.15" width="1.5" height="1.3" fill="#111"/>
<line x1="419.50" y1="91.42" x2="419.50" y2="103.77" stroke="#555" stroke-width="1.0"/>
<rect x="418.75" y="90.92" width="1.5" height="1" fill="#111"/>
<rect x="418.75" y="103.27" width="1.5" height="1" fill="#111"/>
<rect x="418.75" y="96.94" width="1.5" height="1.3" fill="#111"/>
<line x1="421.50" y1="89.24" x2="421.50" y2="101.95" stroke="#555" stroke-width="1.0"/>
<rect x="420.75" y="88.74" width="1.5" height="1" fill="#111"/>
<rect x="420.75" y="101.45" width="1.5" height="1" fill="#111"/>
<rect x="420.75" y="94.94" width="1.5" height="1.3" fill="#111"/>
<line x1="423.50" y1="87.06" x2="423.50" y2="100.13" stroke="#555" stroke-width="1.0"/>
<rect x="422.75" y="86.56" width="1.5" height="1" fill="#111"/>
<rect x="422.75" y="99.63" width="1.5" height="1" fill="#111"/>
<rect x="422.75" y="92.95" width="1.5" height="1.3" fill="#111"/>
<line x1="425.50" y1="84.47" x2="425.50" y2="98.00" stroke="#555" stroke-width="1.0"/>
<rect x="424.75" y="83.97" width="1.5" height="1" fill="#111"/>
<rect x="424.75" y="97.50" width="1.5" height="1" fill="#111"/>
<rect x="424.75" y="90.59" width="1.5" height="1.3" fill="#111"/>
<line x1="427.50" y1="81.88" x2="427.50" y2="95.87" stroke="#555" stroke-width="1.0"/>
<rect x="426.75" y="81.38" width="1.5" height="1" fill="#111"/>
<rect x="426.75" y="95.37" width="1.5" height="1" fill="#111"/>
<rect x="426.75" y="88.23" width="1.5" height="1.3" fill="#111"/>
<line x1="429.50" y1="78.97" x2="429.50" y2="93.41" stroke="#555" stroke-width="1.0"/>
<rect x="428.75" y="78.47" width="1.5" height="1" fill="#111"/>
<rect x="428.75" y="92.91" width="1.5" height="1" fill="#111"/>
<rect x="428.75" y="85.54" width="1.5" height="1.3" fill="#111"/>
<line x1="431.50" y1="76.06" x2="431.50" y2="90.95" stroke="#555" stroke-width="1.0"/>
<rect x="430.75" y="75.56" width="1.5" height="1" fill="#111"/>
<rect x="430.75" y="90.45" width="1.5" height="1" fill="#111"/>
<rect x="430.75" y="82.86" width="1.5" height="1.3" fill="#111"/>
<line x1="433.50" y1="73.18" x2="433.50" y2="88.07" stroke="#555" stroke-width="1.0"/>
<rect x="432.75" y="72.68" width="1.5" height="1" fill="#111"/>
<rect x="432.75" y="87.57" width="1.5" height="1" fill="#111"/>
<rect x="432.75" y="79.98" width="1.5" height="1.3" fill="#111"/>
<line x1="436.50" y1="70.22" x2="436.50" y2="85.11" stroke="#555" stroke-width="1.0"/>
<rect x="435.75" y="69.72" width="1.5" height="1" fill="#111"/>
<rect x="435.75" y="84.61" width="1.5" height="1" fill="#111"/>
<rect x="435.75" y="77.01" width="1.5" height="1.3" fill="#111"/>
<line x1="438.50" y1="67.53" x2="438.50" y2="82.42" stroke="#555" stroke-width="1.0"/>
<rect x="437.75" y="67.03" width="1.5" height="1" fill="#111"/>
<rect x="437.75" y="81.92" width="1.5" height="1" fill="#111"/>
<rect x="437.75" y="74.32" width="1.5" height="1.3" fill="#111"/>
<line x1="440.50" y1="64.90" x2="440.50" y2="79.80" stroke="#555" stroke-width="1.0"/>
<rect x="439.75" y="64.40" width="1.5" height="1" fill="#111"/>
<rect x="439.75" y="79.30" width="1.5" height="1" fill="#111"/>
<rect x="439.75" y="71.70" width="1.5" height="1.3" fill="#111"/>
<line x1="442.50" y1="62.65" x2="442.50" y2="77.54" stroke="#555" stroke-width="1.0"/>
<rect x="441.75" y="62.15" width="1.5" height="1" fill="#111"/>
<rect x="441.75" y="77.04" width="1.5" height="1" fill="#111"/>
<rect x="441.75" y="69.45" width="1.5" height="1.3" fill="#111"/>
<line x1="444.50" y1="60.40" x2="444.50" y2="75.29" stroke="#555" stroke-width="1.0"/>
<rect x="443.75" y="59.90" width="1.5" height="1" fill="#111"/>
<rect x="443.75" y="74.79" width="1.5" height="1" fill="#111"/>
<rect x="443.75" y="67.20" width="1.5" height="1.3" fill="#111"/>
<line x1="446.50" y1="58.24" x2="446.50" y2="73.13" stroke="#555" stroke-width="1.0"/>
<rect x="445.75" y="57.74" width="1.5" height="1" fill="#111"/>
<rect x="445.75" y="72.63" width="1.5" height="1" fill="#111"/>
<rect x="445.75" y="65.03" width="1.5" height="1.3" fill="#111"/>
<line x1="448.50" y1="56.16" x2="448.50" y2="71.05" stroke="#555" stroke-width="1.0"/>
<rect x="447.75" y="55.66" width="1.5" height="1" fill="#111"/>
<rect x="447.75" y="70.55" width="1.5" height="1" fill="#111"/>
<rect x="447.75" y="62.96" width="1.5" height="1.3" fill="#111"/>
<line x1="450.50" y1="54.24" x2="450.50" y2="68.83" stroke="#555" stroke-width="1.0"/>
<rect x="449.75" y="53.74" width="1.5" height="1" fill="#111"/>
<rect x="449.75" y="68.33" width="1.5" height="1" fill="#111"/>
<rect x="449.75" y="60.88" width="1.5" height="1.3" fill="#111"/>
<line x1="453.50" y1="52.45" x2="453.50" y2="66.73" stroke="#555" stroke-width="1.0"/>
<rect x="452.75" y="51.95" width="1.5" height="1" fill="#111"/>
<rect x="452.75" y="66.23" width="1.5" height="1" fill="#111"/>
<rect x="452.75" y="58.94" width="1.5" height="1.3" fill="#111"/>
<line x1="455.50" y1="50.72" x2="455.50" y2="64.70" stroke="#555" stroke-width="1.0"/>
<rect x="454.75" y="50.22" width="1.5" height="1" fill="#111"/>
<rect x="454.75" y="64.20" width="1.5" height="1" fill="#111"/>
<rect x="454.75" y="57.06" width="1.5" height="1.3" fill="#111"/>
<line x1="457.50" y1="48.98" x2="457.50" y2="62.66" stroke="#555" stroke-width="1.0"/>
<rect x="456.75" y="48.48" width="1.5" height="1" fill="#111"/>
<rect x="456.75" y="62.16" width="1.5" height="1" fill="#111"/>
<rect x="456.75" y="55.17" width="1.5" height="1.3" fill="#111"/>
<line x1="459.50" y1="47.40" x2="459.50" y2="60.78" stroke="#555" stroke-width="1.0"/>
<rect x="458.75" y="46.90" width="1.5" height="1" fill="#111"/>
<rect x="458.75" y="60.28" width="1.5" height="1" fill="#111"/>
<rect x="458.75" y="53.44" width="1.5" height="1.3" fill="#111"/>
<line x1="461.50" y1="45.81" x2="461.50" y2="58.89" stroke="#555" stroke-width="1.0"/>
<rect x="460.75" y="45.31" width="1.5" height="1" fill="#111"/>
<rect x="460.75" y="58.39" width="1.5" height="1" fill="#111"/>
<rect x="460.75" y="51.70" width="1.5" height="1.3" fill="#111"/>
<line x1="463.50" y1="44.65" x2="463.50" y2="56.91" stroke="#555" stroke-width="1.0"/>
<rect x="462.75" y="44.15" width="1.5" height="1" fill="#111"/>
<rect x="462.75" y="56.41" width="1.5" height="1" fill="#111"/>
<rect x="462.75" y="50.13" width="1.5" height="1.3" fill="#111"/>
<line x1="465.50" y1="43.57" x2="465.50" y2="55.01" stroke="#555" stroke-width="1.0"/>
<rect x="464.75" y="43.07" width="1.5" height="1" fill="#111"/>
<rect x="464.75" y="54.51" width="1.5" height="1" fill="#111"/>
<rect x="464.75" y="48.64" width="1.5" height="1.3" fill="#111"/>
<line x1="467.50" y1="42.79" x2="467.50" y2="53.42" stroke="#555" stroke-width="1.0"/>
<rect x="466.75" y="42.29" width="1.5" height="1" fill="#111"/>
<rect x="466.75" y="52.92" width="1.5" height="1" fill="#111"/>
<rect x="466.75" y="47.46" width="1.5" height="1.3" fill="#111"/>
<line x1="470.50" y1="42.02" x2="470.50" y2="51.83" stroke="#555" stroke-width="1.0"/>
<rect x="469.75" y="41.52" width="1.5" height="1" fill="#111"/>
<rect x="469.75" y="51.33" width="1.5" height="1" fill="#111"/>
<rect x="469.75" y="46.28" width="1.5" height="1.3" fill="#111"/>
<line x1="472.50" y1="41.14" x2="472.50" y2="50.66" stroke="#555" stroke-width="1.0"/>
<rect x="471.75" y="40.64" width="1.5" height="1" fill="#111"/>
<rect x="471.75" y="50.16" width="1.5" height="1" fill="#111"/>
<rect x="471.75" y="45.25" width="1.5" height="1.3" fill="#111"/>
<line x1="474.50" y1="40.26" x2="474.50" y2="49.49" stroke="#555" stroke-width="1.0"/>
<rect x="473.75" y="39.76" width="1.5" height="1" fill="#111"/>
<rect x="473.75" y="48.99" width="1.5" height="1" fill="#111"/>
<rect x="473.75" y="44.22" width="1.5" height="1.3" fill="#111"/>
<line x1="476.50" y1="39.25" x2="476.50" y2="48.18" stroke="#555" stroke-width="1.0"/>
<rect x="475.75" y="38.75" width="1.5" height="1" fill="#111"/>
<rect x="475.75" y="47.68" width="1.5" height="1" fill="#111"/>
<rect x="475.75" y="43.07" width="1.5" height="1.3" fill="#111"/>
<line x1="478.50" y1="38.18" x2="478.50" y2="46.83" stroke="#555" stroke-width="1.0"/>
<rect x="477.75" y="37.68" width="1.5" height="1" fill="#111"/>
<rect x="477.75" y="46.33" width="1.5" height="1" fill="#111"/>
<rect x="477.75" y="41.86" width="1.5" height="1.3" fill="#111"/>
<line x1="480.50" y1="37.12" x2="480.50" y2="45.47" stroke="#555" stroke-width="1.0"/>
<rect x="479.75" y="36.62" width="1.5" height="1" fill="#111"/>
<rect x="479.75" y="44.97" width="1.5" height="1" fill="#111"/>
<rect x="479.75" y="40.65" width="1.5" height="1.3" fill="#111"/>
<line x1="482.50" y1="36.10" x2="482.50" y2="44.46" stroke="#555" stroke-width="1.0"/>
<rect x="481.75" y="35.60" width="1.5" height="1" fill="#111"/>
<rect x="481.75" y="43.96" width="1.5" height="1" fill="#111"/>
<rect x="481.75" y="39.63" width="1.5" height="1.3" fill="#111"/>
<line x1="484.50" y1="35.09" x2="484.50" y2="43.44" stroke="#555" stroke-width="1.0"/>
<rect x="483.75" y="34.59" width="1.5" height="1" fill="#111"/>
<rect x="483.75" y="42.94" width="1.5" height="1" fill="#111"/>
<rect x="483.75" y="38.61" width="1.5" height="1.3" fill="#111"/>
<line x1="487.50" y1="34.10" x2="487.50" y2="42.46" stroke="#555" stroke-width="1.0"/>
<rect x="486.75" y="33.60" width="1.5" height="1" fill="#111"/>
<rect x="486.75" y="41.96" width="1.5" height="1" fill="#111"/>
<rect x="486.75" y="37.63" width="1.5" height="1.3" fill="#111"/>
<line x1="489.50" y1="33.16" x2="489.50" y2="41.51" stroke="#555" stroke-width="1.0"/>
<rect x="488.75" y="32.66" width="1.5" height="1" fill="#111"/>
<rect x="488.75" y="41.01" width="1.5" height="1" fill="#111"/>
<rect x="488.75" y="36.69" width="1.5" height="1.3" fill="#111"/>
<line x1="491.50" y1="32.22" x2="491.50" y2="40.57" stroke="#555" stroke-width="1.0"/>
<rect x="490.75" y="31.72" width="1.5" height="1" fill="#111"/>
<rect x="490.75" y="40.07" width="1.5" height="1" fill="#111"/>
<rect x="490.75" y="35.74" width="1.5" height="1.3" fill="#111"/>
<line x1="493.50" y1="31.53" x2="493.50" y2="39.88" stroke="#555" stroke-width="1.0"/>
<rect x="492.75" y="31.03" width="1.5" height="1" fill="#111"/>
<rect x="492.75" y="39.38" width="1.5" height="1" fill="#111"/>
<rect x="492.75" y="35.05" width="1.5" height="1.3" fill="#111"/>
<line x1="495.50" y1="30.84" x2="495.50" y2="39.19" stroke="#555" stroke-width="1.0"/>
<rect x="494.75" y="30.34" width="1.5" height="1" fill="#111"/>
<rect x="494.75" y="38.69" width="1.5" height="1" fill="#111"/>
<rect x="494.75" y="34.36" width="1.5" height="1.3" fill="#111"/>
<line x1="497.50" y1="30.15" x2="497.50" y2="38.50" stroke="#555" stroke-width="1.0"/>
<rect x="496.75" y="29.65" width="1.5" height="1" fill="#111"/>
<rect x="496.75" y="38.00" width="1.5" height="1" fill="#111"/>
<rect x="496.75" y="33.67" width="1.5" height="1.3" fill="#111"/>
<line x1="499.50" y1="29.46" x2="499.50" y2="37.81" stroke="#555" stroke-width="1.0"/>
<rect x="498.75" y="28.96" width="1.5" height="1" fill="#111"/>
<rect x="498.75" y="37.31" width="1.5" height="1" fill="#111"/>
<rect x="498.75" y="32.98" width="1.5" height="1.3" fill="#111"/>
<line x1="501.50" y1="28.77" x2="501.50" y2="37.12" stroke="#555" stroke-width="1.0"/>
<rect x="500.75" y="28.27" width="1.5" height="1" fill="#111"/>
<rect x="500.75" y="36.62" width="1.5" height="1" fill="#111"/>
<rect x="500.75" y="32.29" width="1.5" height="1.3" fill="#111"/>
<line x1="504.50" y1="28.18" x2="504.50" y2="36.76" stroke="#555" stroke-width="1.0"/>
<rect x="503.75" y="27.68" width="1.5" height="1" fill="#111"/>
<rect x="503.75" y="36.26" width="1.5" height="1" fill="#111"/>
<rect x="503.75" y="31.82" width="1.5" height="1.3" fill="#111"/>
<line x1="506.50" y1="27.60" x2="506.50" y2="36.39" stroke="#555" stroke-width="1.0"/>
<rect x="505.75" y="27.10" width="1.5" height="1" fill="#111"/>
<rect x="505.75" y="35.89" width="1.5" height="1" fill="#111"/>
<rect x="505.75" y="31.35" width="1.5" height="1.3" fill="#111"/>
<line x1="508.50" y1="27.02" x2="508.50" y2="36.03" stroke="#555" stroke-width="1.0"/>
<rect x="507.75" y="26.52" width="1.5" height="1" fill="#111"/>
<rect x="507.75" y="35.53" width="1.5" height="1" fill="#111"/>
<rect x="507.75" y="30.88" width="1.5" height="1.3" fill="#111"/>
<line x1="510.50" y1="26.44" x2="510.50" y2="35.67" stroke="#555" stroke-width="1.0"/>
<rect x="509.75" y="25.94" width="1.5" height="1" fill="#111"/>
<rect x="509.75" y="35.17" width="1.5" height="1" fill="#111"/>
<rect x="509.75" y="30.40" width="1.5" height="1.3" fill="#111"/>
<line x1="512.50" y1="25.86" x2="512.50" y2="35.30" stroke="#555" stroke-width="1.0"/>
<rect x="511.75" y="25.36" width="1.5" height="1" fill="#111"/>
<rect x="511.75" y="34.80" width="1.5" height="1" fill="#111"/>
<rect x="511.75" y="29.93" width="1.5" height="1.3" fill="#111"/>
<rect x="371.50" y="27.13" width="1.60" height="7.26" fill="#d4d4d4"/>
<rect x="373.62" y="26.77" width="1.60" height="9.08" fill="#d4d4d4"/>
<rect x="375.75" y="26.77" width="1.60" height="10.90" fill="#d4d4d4"/>
<rect x="377.88" y="27.22" width="1.60" height="13.62" fill="#d4d4d4"/>
<rect x="380.00" y="28.58" width="1.60" height="16.34" fill="#d4d4d4"/>
<rect x="382.12" y="31.31" width="1.60" height="18.16" fill="#d4d4d4"/>
<rect x="384.25" y="34.94" width="1.60" height="19.98" fill="#d4d4d4"/>
<rect x="386.38" y="39.48" width="1.60" height="19.98" fill="#d4d4d4"/>
<rect x="388.50" y="44.02" width="1.60" height="19.98" fill="#d4d4d4"/>
<rect x="390.62" y="49.47" width="1.60" height="18.16" fill="#d4d4d4"/>
<rect x="392.75" y="54.92" width="1.60" height="16.34" fill="#d4d4d4"/>
<rect x="394.88" y="60.73" width="1.60" height="12.71" fill="#d4d4d4"/>
<rect x="397.00" y="65.81" width="1.60" height="9.08" fill="#d4d4d4"/>
<rect x="399.12" y="69.44" width="1.60" height="6.90" fill="#d4d4d4"/>
<rect x="401.25" y="71.44" width="1.60" height="5.81" fill="#d4d4d4"/>
<rect x="403.38" y="72.18" width="1.60" height="5.79" fill="#d4d4d4"/>
<rect x="405.50" y="72.55" width="1.60" height="5.77" fill="#d4d4d4"/>
<rect x="407.62" y="72.02" width="1.60" height="5.75" fill="#d4d4d4"/>
<rect x="409.75" y="71.48" width="1.60" height="5.73" fill="#d4d4d4"/>
<rect x="411.88" y="70.25" width="1.60" height="5.70" fill="#d4d4d4"/>
<rect x="414.00" y="68.99" width="1.60" height="5.68" fill="#d4d4d4"/>
<rect x="416.12" y="67.72" width="1.60" height="5.66" fill="#d4d4d4"/>
<rect x="418.25" y="66.44" width="1.60" height="5.64" fill="#d4d4d4"/>
<rect x="420.38" y="64.91" width="1.60" height="5.62" fill="#d4d4d4"/>
<rect x="422.50" y="63.38" width="1.60" height="5.60" fill="#d4d4d4"/>
<rect x="424.62" y="61.48" width="1.60" height="5.58" fill="#d4d4d4"/>
<rect x="426.75" y="59.58" width="1.60" height="5.55" fill="#d4d4d4"/>
<rect x="428.88" y="57.54" width="1.60" height="5.53" fill="#d4d4d4"/>
<rect x="431.00" y="55.50" width="1.60" height="5.51" fill="#d4d4d4"/>
<rect x="433.12" y="53.29" width="1.60" height="5.49" fill="#d4d4d4"/>
<rect x="435.25" y="51.01" width="1.60" height="5.47" fill="#d4d4d4"/>
<rect x="437.38" y="49.17" width="1.60" height="5.45" fill="#d4d4d4"/>
<rect x="439.50" y="47.46" width="1.60" height="5.42" fill="#d4d4d4"/>
<rect x="441.62" y="45.98" width="1.60" height="5.40" fill="#d4d4d4"/>
<rect x="443.75" y="44.60" width="1.60" height="5.38" fill="#d4d4d4"/>
<rect x="445.88" y="43.43" width="1.60" height="5.35" fill="#d4d4d4"/>
<rect x="448.00" y="42.26" width="1.60" height="5.33" fill="#d4d4d4"/>
<rect x="450.12" y="41.10" width="1.60" height="5.30" fill="#d4d4d4"/>
<rect x="452.25" y="39.93" width="1.60" height="5.28" fill="#d4d4d4"/>
<rect x="454.38" y="38.85" width="1.60" height="5.25" fill="#d4d4d4"/>
<rect x="456.50" y="38.05" width="1.60" height="5.23" fill="#d4d4d4"/>
<rect x="458.62" y="37.24" width="1.60" height="5.21" fill="#d4d4d4"/>
<rect x="460.75" y="36.53" width="1.60" height="5.18" fill="#d4d4d4"/>
<rect x="462.88" y="35.81" width="1.60" height="5.16" fill="#d4d4d4"/>
<rect x="465.00" y="35.10" width="1.60" height="5.13" fill="#d4d4d4"/>
<rect x="467.12" y="34.38" width="1.60" height="5.11" fill="#d4d4d4"/>
<rect x="469.25" y="33.67" width="1.60" height="5.08" fill="#d4d4d4"/>
<rect x="471.38" y="33.09" width="1.60" height="5.16" fill="#d4d4d4"/>
<rect x="473.50" y="32.51" width="1.60" height="5.23" fill="#d4d4d4"/>
<rect x="475.62" y="31.93" width="1.60" height="5.30" fill="#d4d4d4"/>
<rect x="477.75" y="31.34" width="1.60" height="5.38" fill="#d4d4d4"/>
<rect x="479.88" y="30.85" width="1.60" height="5.45" fill="#d4d4d4"/>
<rect x="482.00" y="30.36" width="1.60" height="5.52" fill="#d4d4d4"/>
<rect x="484.12" y="29.87" width="1.60" height="5.59" fill="#d4d4d4"/>
<rect x="486.25" y="29.38" width="1.60" height="5.67" fill="#d4d4d4"/>
<rect x="488.38" y="29.03" width="1.60" height="5.74" fill="#d4d4d4"/>
<rect x="490.50" y="28.67" width="1.60" height="5.81" fill="#d4d4d4"/>
<rect x="492.62" y="28.23" width="1.60" height="6.07" fill="#d4d4d4"/>
<rect x="494.75" y="27.78" width="1.60" height="6.32" fill="#d4d4d4"/>
<rect x="496.88" y="27.52" width="1.60" height="6.57" fill="#d4d4d4"/>
<rect x="499.00" y="27.26" width="1.60" height="6.83" fill="#d4d4d4"/>
<rect x="501.12" y="26.99" width="1.60" height="7.08" fill="#d4d4d4"/>
<rect x="503.25" y="26.73" width="1.60" height="7.34" fill="#d4d4d4"/>
<rect x="505.38" y="26.51" width="1.60" height="7.59" fill="#d4d4d4"/>
<rect x="507.50" y="26.30" width="1.60" height="7.85" fill="#d4d4d4"/>
<rect x="509.62" y="26.08" width="1.60" height="8.10" fill="#d4d4d4"/>
<rect x="511.75" y="25.86" width="1.60" height="8.35" fill="#d4d4d4"/>
<line x1="372.50" y1="27.13" x2="372.50" y2="34.40" stroke="#555" stroke-width="1.0"/>
<rect x="371.75" y="26.63" width="1.5" height="1" fill="#111"/>
<rect x="371.75" y="33.90" width="1.5" height="1" fill="#111"/>
<rect x="371.75" y="30.11" width="1.5" height="1.3" fill="#111"/>
<line x1="374.50" y1="26.77" x2="374.50" y2="35.85" stroke="#555" stroke-width="1.0"/>
<rect x="373.75" y="26.27" width="1.5" height="1" fill="#111"/>
<rect x="373.75" y="35.35" width="1.5" height="1" fill="#111"/>
<rect x="373.75" y="30.66" width="1.5" height="1.3" fill="#111"/>
<line x1="376.50" y1="26.77" x2="376.50" y2="37.66" stroke="#555" stroke-width="1.0"/>
<rect x="375.75" y="26.27" width="1.5" height="1" fill="#111"/>
<rect x="375.75" y="37.16" width="1.5" height="1" fill="#111"/>
<rect x="375.75" y="31.57" width="1.5" height="1.3" fill="#111"/>
<line x1="378.50" y1="27.22" x2="378.50" y2="40.84" stroke="#555" stroke-width="1.0"/>
<rect x="377.75" y="26.72" width="1.5" height="1" fill="#111"/>
<rect x="377.75" y="40.34" width="1.5" height="1" fill="#111"/>
<rect x="377.75" y="33.38" width="1.5" height="1.3" fill="#111"/>
<line x1="380.50" y1="28.58" x2="380.50" y2="44.93" stroke="#555" stroke-width="1.0"/>
<rect x="379.75" y="28.08" width="1.5" height="1" fill="#111"/>
<rect x="379.75" y="44.43" width="1.5" height="1" fill="#111"/>
<rect x="379.75" y="36.11" width="1.5" height="1.3" fill="#111"/>
<line x1="382.50" y1="31.31" x2="382.50" y2="49.47" stroke="#555" stroke-width="1.0"/>
<rect x="381.75" y="30.81" width="1.5" height="1" fill="#111"/>
<rect x="381.75" y="48.97" width="1.5" height="1" fill="#111"/>
<rect x="381.75" y="39.74" width="1.5" height="1.3" fill="#111"/>
<line x1="385.50" y1="34.94" x2="385.50" y2="54.92" stroke="#555" stroke-width="1.0"/>
<rect x="384.75" y="34.44" width="1.5" height="1" fill="#111"/>
<rect x="384.75" y="54.42" width="1.5" height="1" fill="#111"/>
<rect x="384.75" y="44.28" width="1.5" height="1.3" fill="#111"/>
<line x1="387.50" y1="39.48" x2="387.50" y2="59.46" stroke="#555" stroke-width="1.0"/>
<rect x="386.75" y="38.98" width="1.5" height="1" fill="#111"/>
<rect x="386.75" y="58.96" width="1.5" height="1" fill="#111"/>
<rect x="386.75" y="48.82" width="1.5" height="1.3" fill="#111"/>
<line x1="389.50" y1="44.02" x2="389.50" y2="64.00" stroke="#555" stroke-width="1.0"/>
<rect x="388.75" y="43.52" width="1.5" height="1" fill="#111"/>
<rect x="388.75" y="63.50" width="1.5" height="1" fill="#111"/>
<rect x="388.75" y="53.36" width="1.5" height="1.3" fill="#111"/>
<line x1="391.50" y1="49.47" x2="391.50" y2="67.63" stroke="#555" stroke-width="1.0"/>
<rect x="390.75" y="48.97" width="1.5" height="1" fill="#111"/>
<rect x="390.75" y="67.13" width="1.5" height="1" fill="#111"/>
<rect x="390.75" y="57.90" width="1.5" height="1.3" fill="#111"/>
<line x1="393.50" y1="54.92" x2="393.50" y2="71.26" stroke="#555" stroke-width="1.0"/>
<rect x="392.75" y="54.42" width="1.5" height="1" fill="#111"/>
<rect x="392.75" y="70.76" width="1.5" height="1" fill="#111"/>
<rect x="392.75" y="62.44" width="1.5" height="1.3" fill="#111"/>
<line x1="395.50" y1="60.73" x2="395.50" y2="73.44" stroke="#555" stroke-width="1.0"/>
<rect x="394.75" y="60.23" width="1.5" height="1" fill="#111"/>
<rect x="394.75" y="72.94" width="1.5" height="1" fill="#111"/>
<rect x="394.75" y="66.43" width="1.5" height="1.3" fill="#111"/>
<line x1="397.50" y1="65.81" x2="397.50" y2="74.89" stroke="#555" stroke-width="1.0"/>
<rect x="396.75" y="65.31" width="1.5" height="1" fill="#111"/>
<rect x="396.75" y="74.39" width="1.5" height="1" fill="#111"/>
<rect x="396.75" y="69.70" width="1.5" height="1.3" fill="#111"/>
<line x1="399.50" y1="69.44" x2="399.50" y2="76.34" stroke="#555" stroke-width="1.0"/>
<rect x="398.75" y="68.94" width="1.5" height="1" fill="#111"/>
<rect x="398.75" y="75.84" width="1.5" height="1" fill="#111"/>
<rect x="398.75" y="72.24" width="1.5" height="1.3" fill="#111"/>
<line x1="402.50" y1="71.44" x2="402.50" y2="77.25" stroke="#555" stroke-width="1.0"/>
<rect x="401.75" y="70.94" width="1.5" height="1" fill="#111"/>
<rect x="401.75" y="76.75" width="1.5" height="1" fill="#111"/>
<rect x="401.75" y="73.70" width="1.5" height="1.3" fill="#111"/>
<line x1="404.50" y1="72.18" x2="404.50" y2="77.97" stroke="#555" stroke-width="1.0"/>
<rect x="403.75" y="71.68" width="1.5" height="1" fill="#111"/>
<rect x="403.75" y="77.47" width="1.5" height="1" fill="#111"/>
<rect x="403.75" y="74.42" width="1.5" height="1.3" fill="#111"/>
<line x1="406.50" y1="72.55" x2="406.50" y2="78.32" stroke="#555" stroke-width="1.0"/>
<rect x="405.75" y="72.05" width="1.5" height="1" fill="#111"/>
<rect x="405.75" y="77.82" width="1.5" height="1" fill="#111"/>
<rect x="405.75" y="74.79" width="1.5" height="1.3" fill="#111"/>
<line x1="408.50" y1="72.02" x2="408.50" y2="77.77" stroke="#555" stroke-width="1.0"/>
<rect x="407.75" y="71.52" width="1.5" height="1" fill="#111"/>
<rect x="407.75" y="77.27" width="1.5" height="1" fill="#111"/>
<rect x="407.75" y="74.24" width="1.5" height="1.3" fill="#111"/>
<line x1="410.50" y1="71.48" x2="410.50" y2="77.21" stroke="#555" stroke-width="1.0"/>
<rect x="409.75" y="70.98" width="1.5" height="1" fill="#111"/>
<rect x="409.75" y="76.71" width="1.5" height="1" fill="#111"/>
<rect x="409.75" y="73.70" width="1.5" height="1.3" fill="#111"/>
<line x1="412.50" y1="70.25" x2="412.50" y2="75.95" stroke="#555" stroke-width="1.0"/>
<rect x="411.75" y="69.75" width="1.5" height="1" fill="#111"/>
<rect x="411.75" y="75.45" width="1.5" height="1" fill="#111"/>
<rect x="411.75" y="72.45" width="1.5" height="1.3" fill="#111"/>
<line x1="414.50" y1="68.99" x2="414.50" y2="74.68" stroke="#555" stroke-width="1.0"/>
<rect x="413.75" y="68.49" width="1.5" height="1" fill="#111"/>
<rect x="413.75" y="74.18" width="1.5" height="1" fill="#111"/>
<rect x="413.75" y="71.19" width="1.5" height="1.3" fill="#111"/>
<line x1="416.50" y1="67.72" x2="416.50" y2="73.38" stroke="#555" stroke-width="1.0"/>
<rect x="415.75" y="67.22" width="1.5" height="1" fill="#111"/>
<rect x="415.75" y="72.88" width="1.5" height="1" fill="#111"/>
<rect x="415.75" y="69.90" width="1.5" height="1.3" fill="#111"/>
<line x1="419.50" y1="66.44" x2="419.50" y2="72.08" stroke="#555" stroke-width="1.0"/>
<rect x="418.75" y="65.94" width="1.5" height="1" fill="#111"/>
<rect x="418.75" y="71.58" width="1.5" height="1" fill="#111"/>
<rect x="418.75" y="68.61" width="1.5" height="1.3" fill="#111"/>
<line x1="421.50" y1="64.91" x2="421.50" y2="70.53" stroke="#555" stroke-width="1.0"/>
<rect x="420.75" y="64.41" width="1.5" height="1" fill="#111"/>
<rect x="420.75" y="70.03" width="1.5" height="1" fill="#111"/>
<rect x="420.75" y="67.07" width="1.5" height="1.3" fill="#111"/>
<line x1="423.50" y1="63.38" x2="423.50" y2="68.97" stroke="#555" stroke-width="1.0"/>
<rect x="422.75" y="62.88" width="1.5" height="1" fill="#111"/>
<rect x="422.75" y="68.47" width="1.5" height="1" fill="#111"/>
<rect x="422.75" y="65.53" width="1.5" height="1.3" fill="#111"/>
<line x1="425.50" y1="61.48" x2="425.50" y2="67.06" stroke="#555" stroke-width="1.0"/>
<rect x="424.75" y="60.98" width="1.5" height="1" fill="#111"/>
<rect x="424.75" y="66.56" width="1.5" height="1" fill="#111"/>
<rect x="424.75" y="63.62" width="1.5" height="1.3" fill="#111"/>
<line x1="427.50" y1="59.58" x2="427.50" y2="65.14" stroke="#555" stroke-width="1.0"/>
<rect x="426.75" y="59.08" width="1.5" height="1" fill="#111"/>
<rect x="426.75" y="64.64" width="1.5" height="1" fill="#111"/>
<rect x="426.75" y="61.71" width="1.5" height="1.3" fill="#111"/>
<line x1="429.50" y1="57.54" x2="429.50" y2="63.08" stroke="#555" stroke-width="1.0"/>
<rect x="428.75" y="57.04" width="1.5" height="1" fill="#111"/>
<rect x="428.75" y="62.58" width="1.5" height="1" fill="#111"/>
<rect x="428.75" y="59.66" width="1.5" height="1.3" fill="#111"/>
<line x1="431.50" y1="55.50" x2="431.50" y2="61.01" stroke="#555" stroke-width="1.0"/>
<rect x="430.75" y="55.00" width="1.5" height="1" fill="#111"/>
<rect x="430.75" y="60.51" width="1.5" height="1" fill="#111"/>
<rect x="430.75" y="57.61" width="1.5" height="1.3" fill="#111"/>
<line x1="433.50" y1="53.29" x2="433.50" y2="58.78" stroke="#555" stroke-width="1.0"/>
<rect x="432.75" y="52.79" width="1.5" height="1" fill="#111"/>
<rect x="432.75" y="58.28" width="1.5" height="1" fill="#111"/>
<rect x="432.75" y="55.38" width="1.5" height="1.3" fill="#111"/>
<line x1="436.50" y1="51.01" x2="436.50" y2="56.48" stroke="#555" stroke-width="1.0"/>
<rect x="435.75" y="50.51" width="1.5" height="1" fill="#111"/>
<rect x="435.75" y="55.98" width="1.5" height="1" fill="#111"/>
<rect x="435.75" y="53.09" width="1.5" height="1.3" fill="#111"/>
<line x1="438.50" y1="49.17" x2="438.50" y2="54.62" stroke="#555" stroke-width="1.0"/>
<rect x="437.75" y="48.67" width="1.5" height="1" fill="#111"/>
<rect x="437.75" y="54.12" width="1.5" height="1" fill="#111"/>
<rect x="437.75" y="51.25" width="1.5" height="1.3" fill="#111"/>
<line x1="440.50" y1="47.46" x2="440.50" y2="52.88" stroke="#555" stroke-width="1.0"/>
<rect x="439.75" y="46.96" width="1.5" height="1" fill="#111"/>
<rect x="439.75" y="52.38" width="1.5" height="1" fill="#111"/>
<rect x="439.75" y="49.52" width="1.5" height="1.3" fill="#111"/>
<line x1="442.50" y1="45.98" x2="442.50" y2="51.38" stroke="#555" stroke-width="1.0"/>
<rect x="441.75" y="45.48" width="1.5" height="1" fill="#111"/>
<rect x="441.75" y="50.88" width="1.5" height="1" fill="#111"/>
<rect x="441.75" y="48.03" width="1.5" height="1.3" fill="#111"/>
<line x1="444.50" y1="44.60" x2="444.50" y2="49.98" stroke="#555" stroke-width="1.0"/>
<rect x="443.75" y="44.10" width="1.5" height="1" fill="#111"/>
<rect x="443.75" y="49.48" width="1.5" height="1" fill="#111"/>
<rect x="443.75" y="46.64" width="1.5" height="1.3" fill="#111"/>
<line x1="446.50" y1="43.43" x2="446.50" y2="48.78" stroke="#555" stroke-width="1.0"/>
<rect x="445.75" y="42.93" width="1.5" height="1" fill="#111"/>
<rect x="445.75" y="48.28" width="1.5" height="1" fill="#111"/>
<rect x="445.75" y="45.46" width="1.5" height="1.3" fill="#111"/>
<line x1="448.50" y1="42.26" x2="448.50" y2="47.59" stroke="#555" stroke-width="1.0"/>
<rect x="447.75" y="41.76" width="1.5" height="1" fill="#111"/>
<rect x="447.75" y="47.09" width="1.5" height="1" fill="#111"/>
<rect x="447.75" y="44.28" width="1.5" height="1.3" fill="#111"/>
<line x1="450.50" y1="41.10" x2="450.50" y2="46.40" stroke="#555" stroke-width="1.0"/>
<rect x="449.75" y="40.60" width="1.5" height="1" fill="#111"/>
<rect x="449.75" y="45.90" width="1.5" height="1" fill="#111"/>
<rect x="449.75" y="43.10" width="1.5" height="1.3" fill="#111"/>
<line x1="453.50" y1="39.93" x2="453.50" y2="45.21" stroke="#555" stroke-width="1.0"/>
<rect x="452.75" y="39.43" width="1.5" height="1" fill="#111"/>
<rect x="452.75" y="44.71" width="1.5" height="1" fill="#111"/>
<rect x="452.75" y="41.92" width="1.5" height="1.3" fill="#111"/>
<line x1="455.50" y1="38.85" x2="455.50" y2="44.10" stroke="#555" stroke-width="1.0"/>
<rect x="454.75" y="38.35" width="1.5" height="1" fill="#111"/>
<rect x="454.75" y="43.60" width="1.5" height="1" fill="#111"/>
<rect x="454.75" y="40.83" width="1.5" height="1.3" fill="#111"/>
<line x1="457.50" y1="38.05" x2="457.50" y2="43.28" stroke="#555" stroke-width="1.0"/>
<rect x="456.75" y="37.55" width="1.5" height="1" fill="#111"/>
<rect x="456.75" y="42.78" width="1.5" height="1" fill="#111"/>
<rect x="456.75" y="40.01" width="1.5" height="1.3" fill="#111"/>
<line x1="459.50" y1="37.24" x2="459.50" y2="42.45" stroke="#555" stroke-width="1.0"/>
<rect x="458.75" y="36.74" width="1.5" height="1" fill="#111"/>
<rect x="458.75" y="41.95" width="1.5" height="1" fill="#111"/>
<rect x="458.75" y="39.19" width="1.5" height="1.3" fill="#111"/>
<line x1="461.50" y1="36.53" x2="461.50" y2="41.71" stroke="#555" stroke-width="1.0"/>
<rect x="460.75" y="36.03" width="1.5" height="1" fill="#111"/>
<rect x="460.75" y="41.21" width="1.5" height="1" fill="#111"/>
<rect x="460.75" y="38.47" width="1.5" height="1.3" fill="#111"/>
<line x1="463.50" y1="35.81" x2="463.50" y2="40.97" stroke="#555" stroke-width="1.0"/>
<rect x="462.75" y="35.31" width="1.5" height="1" fill="#111"/>
<rect x="462.75" y="40.47" width="1.5" height="1" fill="#111"/>
<rect x="462.75" y="37.74" width="1.5" height="1.3" fill="#111"/>
<line x1="465.50" y1="35.10" x2="465.50" y2="40.23" stroke="#555" stroke-width="1.0"/>
<rect x="464.75" y="34.60" width="1.5" height="1" fill="#111"/>
<rect x="464.75" y="39.73" width="1.5" height="1" fill="#111"/>
<rect x="464.75" y="37.01" width="1.5" height="1.3" fill="#111"/>
<line x1="467.50" y1="34.38" x2="467.50" y2="39.49" stroke="#555" stroke-width="1.0"/>
<rect x="466.75" y="33.88" width="1.5" height="1" fill="#111"/>
<rect x="466.75" y="38.99" width="1.5" height="1" fill="#111"/>
<rect x="466.75" y="36.29" width="1.5" height="1.3" fill="#111"/>
<line x1="470.50" y1="33.67" x2="470.50" y2="38.75" stroke="#555" stroke-width="1.0"/>
<rect x="469.75" y="33.17" width="1.5" height="1" fill="#111"/>
<rect x="469.75" y="38.25" width="1.5" height="1" fill="#111"/>
<rect x="469.75" y="35.56" width="1.5" height="1.3" fill="#111"/>
<line x1="472.50" y1="33.09" x2="472.50" y2="38.25" stroke="#555" stroke-width="1.0"/>
<rect x="471.75" y="32.59" width="1.5" height="1" fill="#111"/>
<rect x="471.75" y="37.75" width="1.5" height="1" fill="#111"/>
<rect x="471.75" y="35.02" width="1.5" height="1.3" fill="#111"/>
<line x1="474.50" y1="32.51" x2="474.50" y2="37.74" stroke="#555" stroke-width="1.0"/>
<rect x="473.75" y="32.01" width="1.5" height="1" fill="#111"/>
<rect x="473.75" y="37.24" width="1.5" height="1" fill="#111"/>
<rect x="473.75" y="34.47" width="1.5" height="1.3" fill="#111"/>
<line x1="476.50" y1="31.93" x2="476.50" y2="37.23" stroke="#555" stroke-width="1.0"/>
<rect x="475.75" y="31.43" width="1.5" height="1" fill="#111"/>
<rect x="475.75" y="36.73" width="1.5" height="1" fill="#111"/>
<rect x="475.75" y="33.93" width="1.5" height="1.3" fill="#111"/>
<line x1="478.50" y1="31.34" x2="478.50" y2="36.72" stroke="#555" stroke-width="1.0"/>
<rect x="477.75" y="30.84" width="1.5" height="1" fill="#111"/>
<rect x="477.75" y="36.22" width="1.5" height="1" fill="#111"/>
<rect x="477.75" y="33.38" width="1.5" height="1.3" fill="#111"/>
<line x1="480.50" y1="30.85" x2="480.50" y2="36.30" stroke="#555" stroke-width="1.0"/>
<rect x="479.75" y="30.35" width="1.5" height="1" fill="#111"/>
<rect x="479.75" y="35.80" width="1.5" height="1" fill="#111"/>
<rect x="479.75" y="32.93" width="1.5" height="1.3" fill="#111"/>
<line x1="482.50" y1="30.36" x2="482.50" y2="35.88" stroke="#555" stroke-width="1.0"/>
<rect x="481.75" y="29.86" width="1.5" height="1" fill="#111"/>
<rect x="481.75" y="35.38" width="1.5" height="1" fill="#111"/>
<rect x="481.75" y="32.47" width="1.5" height="1.3" fill="#111"/>
<line x1="484.50" y1="29.87" x2="484.50" y2="35.47" stroke="#555" stroke-width="1.0"/>
<rect x="483.75" y="29.37" width="1.5" height="1" fill="#111"/>
<rect x="483.75" y="34.97" width="1.5" height="1" fill="#111"/>
<rect x="483.75" y="32.02" width="1.5" height="1.3" fill="#111"/>
<line x1="487.50" y1="29.38" x2="487.50" y2="35.05" stroke="#555" stroke-width="1.0"/>
<rect x="486.75" y="28.88" width="1.5" height="1" fill="#111"/>
<rect x="486.75" y="34.55" width="1.5" height="1" fill="#111"/>
<rect x="486.75" y="31.57" width="1.5" height="1.3" fill="#111"/>
<line x1="489.50" y1="29.03" x2="489.50" y2="34.77" stroke="#555" stroke-width="1.0"/>
<rect x="488.75" y="28.53" width="1.5" height="1" fill="#111"/>
<rect x="488.75" y="34.27" width="1.5" height="1" fill="#111"/>
<rect x="488.75" y="31.25" width="1.5" height="1.3" fill="#111"/>
<line x1="491.50" y1="28.67" x2="491.50" y2="34.49" stroke="#555" stroke-width="1.0"/>
<rect x="490.75" y="28.17" width="1.5" height="1" fill="#111"/>
<rect x="490.75" y="33.99" width="1.5" height="1" fill="#111"/>
<rect x="490.75" y="30.93" width="1.5" height="1.3" fill="#111"/>
<line x1="493.50" y1="28.23" x2="493.50" y2="34.30" stroke="#555" stroke-width="1.0"/>
<rect x="492.75" y="27.73" width="1.5" height="1" fill="#111"/>
<rect x="492.75" y="33.80" width="1.5" height="1" fill="#111"/>
<rect x="492.75" y="30.61" width="1.5" height="1.3" fill="#111"/>
<line x1="495.50" y1="27.78" x2="495.50" y2="34.10" stroke="#555" stroke-width="1.0"/>
<rect x="494.75" y="27.28" width="1.5" height="1" fill="#111"/>
<rect x="494.75" y="33.60" width="1.5" height="1" fill="#111"/>
<rect x="494.75" y="30.29" width="1.5" height="1.3" fill="#111"/>
<line x1="497.50" y1="27.52" x2="497.50" y2="34.10" stroke="#555" stroke-width="1.0"/>
<rect x="496.75" y="27.02" width="1.5" height="1" fill="#111"/>
<rect x="496.75" y="33.60" width="1.5" height="1" fill="#111"/>
<rect x="496.75" y="30.16" width="1.5" height="1.3" fill="#111"/>
<line x1="499.50" y1="27.26" x2="499.50" y2="34.09" stroke="#555" stroke-width="1.0"/>
<rect x="498.75" y="26.76" width="1.5" height="1" fill="#111"/>
<rect x="498.75" y="33.59" width="1.5" height="1" fill="#111"/>
<rect x="498.75" y="30.02" width="1.5" height="1.3" fill="#111"/>
<line x1="501.50" y1="26.99" x2="501.50" y2="34.08" stroke="#555" stroke-width="1.0"/>
<rect x="500.75" y="26.49" width="1.5" height="1" fill="#111"/>
<rect x="500.75" y="33.58" width="1.5" height="1" fill="#111"/>
<rect x="500.75" y="29.89" width="1.5" height="1.3" fill="#111"/>
<line x1="504.50" y1="26.73" x2="504.50" y2="34.07" stroke="#555" stroke-width="1.0"/>
<rect x="503.75" y="26.23" width="1.5" height="1" fill="#111"/>
<rect x="503.75" y="33.57" width="1.5" height="1" fill="#111"/>
<rect x="503.75" y="29.75" width="1.5" height="1.3" fill="#111"/>
<line x1="506.50" y1="26.51" x2="506.50" y2="34.10" stroke="#555" stroke-width="1.0"/>
<rect x="505.75" y="26.01" width="1.5" height="1" fill="#111"/>
<rect x="505.75" y="33.60" width="1.5" height="1" fill="#111"/>
<rect x="505.75" y="29.66" width="1.5" height="1.3" fill="#111"/>
<line x1="508.50" y1="26.30" x2="508.50" y2="34.14" stroke="#555" stroke-width="1.0"/>
<rect x="507.75" y="25.80" width="1.5" height="1" fill="#111"/>
<rect x="507.75" y="33.64" width="1.5" height="1" fill="#111"/>
<rect x="507.75" y="29.57" width="1.5" height="1.3" fill="#111"/>
<line x1="510.50" y1="26.08" x2="510.50" y2="34.18" stroke="#555" stroke-width="1.0"/>
<rect x="509.75" y="25.58" width="1.5" height="1" fill="#111"/>
<rect x="509.75" y="33.68" width="1.5" height="1" fill="#111"/>
<rect x="509.75" y="29.48" width="1.5" height="1.3" fill="#111"/>
<line x1="512.50" y1="25.86" x2="512.50" y2="34.21" stroke="#555" stroke-width="1.0"/>
<rect x="511.75" y="25.36" width="1.5" height="1" fill="#111"/>
<rect x="511.75" y="33.71" width="1.5" height="1" fill="#111"/>
<rect x="511.75" y="29.39" width="1.5" height="1.3" fill="#111"/>
<line x1="363.80" y1="30.40" x2="371.00" y2="30.40" stroke="#222" stroke-width="1.0"/>
<line x1="371.00" y1="28.60" x2="371.00" y2="32.20" stroke="#222" stroke-width="0.8"/>
<text x="394.60" y="37.60" font-size="7.9" font-weight="bold" text-anchor="start" textLength="55.60" lengthAdjust="spacingAndGlyphs" fill="#000" stroke="#000" stroke-width="0.45">FXa &amp; TFLLRN</text>
<text x="425.30" y="109.30" font-size="7.9" font-weight="bold" text-anchor="start" textLength="30.80" lengthAdjust="spacingAndGlyphs" fill="#000" stroke="#000" stroke-width="0.45">TFLLRN</text>
<line x1="370.70" y1="8.80" x2="370.70" y2="18.00" stroke="#000" stroke-width="1.8"/>
<polygon points="367.8,17.1 373.8,17.1 370.7,24.2" fill="#000"/>
<line x1="43.60" y1="177.50" x2="43.60" y2="277.80" stroke="#2a2a2a" stroke-width="1.0"/>
<line x1="41.00" y1="186.80" x2="43.60" y2="186.80" stroke="#2a2a2a" stroke-width="0.9"/>
<text x="40.20" y="189.30" font-size="7.4" font-weight="bold" text-anchor="end" fill="#000" stroke="#000" stroke-width="0.45">100</text>
<line x1="41.00" y1="204.90" x2="43.60" y2="204.90" stroke="#2a2a2a" stroke-width="0.9"/>
<text x="40.20" y="207.40" font-size="7.4" font-weight="bold" text-anchor="end" fill="#000" stroke="#000" stroke-width="0.45">80</text>
<line x1="41.00" y1="223.00" x2="43.60" y2="223.00" stroke="#2a2a2a" stroke-width="0.9"/>
<text x="40.20" y="225.50" font-size="7.4" font-weight="bold" text-anchor="end" fill="#000" stroke="#000" stroke-width="0.45">60</text>
<line x1="41.00" y1="241.10" x2="43.60" y2="241.10" stroke="#2a2a2a" stroke-width="0.9"/>
<text x="40.20" y="243.60" font-size="7.4" font-weight="bold" text-anchor="end" fill="#000" stroke="#000" stroke-width="0.45">40</text>
<line x1="41.00" y1="259.20" x2="43.60" y2="259.20" stroke="#2a2a2a" stroke-width="0.9"/>
<text x="40.20" y="261.70" font-size="7.4" font-weight="bold" text-anchor="end" fill="#000" stroke="#000" stroke-width="0.45">20</text>
<line x1="41.00" y1="277.30" x2="43.60" y2="277.30" stroke="#2a2a2a" stroke-width="0.9"/>
<text x="40.20" y="279.80" font-size="7.4" font-weight="bold" text-anchor="end" fill="#000" stroke="#000" stroke-width="0.45">0</text>
<line x1="43.10" y1="277.30" x2="99.40" y2="277.30" stroke="#2a2a2a" stroke-width="1.0"/>
<line x1="52.80" y1="277.30" x2="52.80" y2="279.30" stroke="#2a2a2a" stroke-width="0.9"/>
<line x1="71.60" y1="277.30" x2="71.60" y2="279.30" stroke="#2a2a2a" stroke-width="0.9"/>
<line x1="90.40" y1="277.30" x2="90.40" y2="279.30" stroke="#2a2a2a" stroke-width="0.9"/>
<rect x="46.60" y="186.80" width="12.40" height="90.50" fill="#fff" stroke="#383838" stroke-width="1.3"/>
<line x1="71.60" y1="224.54" x2="71.60" y2="221.64" stroke="#333" stroke-width="1.1"/>
<line x1="68.90" y1="221.64" x2="74.30" y2="221.64" stroke="#333" stroke-width="1.1"/>
<rect x="65.60" y="224.54" width="12.00" height="52.76" fill="#cdcdcd" stroke="#383838" stroke-width="1.3"/>
<line x1="90.40" y1="229.06" x2="90.40" y2="222.82" stroke="#333" stroke-width="1.1"/>
<line x1="87.70" y1="222.82" x2="93.10" y2="222.82" stroke="#333" stroke-width="1.1"/>
<rect x="84.40" y="229.06" width="12.00" height="48.24" fill="#cdcdcd" stroke="#383838" stroke-width="1.3"/>
<text x="54.20" y="285.40" font-size="7.8" font-weight="bold" text-anchor="end" transform="rotate(-45 54.20 285.40)" fill="#000" stroke="#000" stroke-width="0.45">none</text>
<text x="73.10" y="285.40" font-size="7.8" font-weight="bold" text-anchor="end" transform="rotate(-45 73.10 285.40)" fill="#000" stroke="#000" stroke-width="0.45">FXa</text>
<text x="91.90" y="285.40" font-size="7.8" font-weight="bold" text-anchor="end" transform="rotate(-45 91.90 285.40)" fill="#000" stroke="#000" stroke-width="0.45">APC</text>
<text x="14.20" y="225.60" font-size="7.8" font-weight="bold" text-anchor="middle" transform="rotate(-90 14.20 225.60)" textLength="63.20" lengthAdjust="spacingAndGlyphs" fill="#000" stroke="#000" stroke-width="0.3">TFLLRN-induced</text>
<text x="23.90" y="225.60" font-size="7.8" font-weight="bold" text-anchor="middle" transform="rotate(-90 23.90 225.60)" textLength="76.50" lengthAdjust="spacingAndGlyphs" fill="#000" stroke="#000" stroke-width="0.3">barrier disruption (%)</text>
<line x1="171.50" y1="177.80" x2="171.50" y2="277.80" stroke="#2a2a2a" stroke-width="1.0"/>
<line x1="168.90" y1="186.80" x2="171.50" y2="186.80" stroke="#2a2a2a" stroke-width="0.9"/>
<text x="168.10" y="189.30" font-size="7.4" font-weight="bold" text-anchor="end" fill="#000" stroke="#000" stroke-width="0.45">100</text>
<line x1="168.90" y1="204.90" x2="171.50" y2="204.90" stroke="#2a2a2a" stroke-width="0.9"/>
<text x="168.10" y="207.40" font-size="7.4" font-weight="bold" text-anchor="end" fill="#000" stroke="#000" stroke-width="0.45">80</text>
<line x1="168.90" y1="223.00" x2="171.50" y2="223.00" stroke="#2a2a2a" stroke-width="0.9"/>
<text x="168.10" y="225.50" font-size="7.4" font-weight="bold" text-anchor="end" fill="#000" stroke="#000" stroke-width="0.45">60</text>
<line x1="168.90" y1="241.10" x2="171.50" y2="241.10" stroke="#2a2a2a" stroke-width="0.9"/>
<text x="168.10" y="243.60" font-size="7.4" font-weight="bold" text-anchor="end" fill="#000" stroke="#000" stroke-width="0.45">40</text>
<line x1="168.90" y1="259.20" x2="171.50" y2="259.20" stroke="#2a2a2a" stroke-width="0.9"/>
<text x="168.10" y="261.70" font-size="7.4" font-weight="bold" text-anchor="end" fill="#000" stroke="#000" stroke-width="0.45">20</text>
<line x1="168.90" y1="277.30" x2="171.50" y2="277.30" stroke="#2a2a2a" stroke-width="0.9"/>
<text x="168.10" y="279.80" font-size="7.4" font-weight="bold" text-anchor="end" fill="#000" stroke="#000" stroke-width="0.45">0</text>
<line x1="171.00" y1="277.30" x2="245.80" y2="277.30" stroke="#2a2a2a" stroke-width="1.0"/>
<line x1="180.60" y1="277.30" x2="180.60" y2="279.30" stroke="#2a2a2a" stroke-width="0.9"/>
<line x1="199.10" y1="277.30" x2="199.10" y2="279.30" stroke="#2a2a2a" stroke-width="0.9"/>
<line x1="217.80" y1="277.30" x2="217.80" y2="279.30" stroke="#2a2a2a" stroke-width="0.9"/>
<line x1="236.30" y1="277.30" x2="236.30" y2="279.30" stroke="#2a2a2a" stroke-width="0.9"/>
<rect x="174.30" y="186.80" width="12.70" height="90.50" fill="#fff" stroke="#383838" stroke-width="1.3"/>
<line x1="199.10" y1="234.95" x2="199.10" y2="233.86" stroke="#333" stroke-width="1.1"/>
<line x1="196.27" y1="233.86" x2="201.94" y2="233.86" stroke="#333" stroke-width="1.1"/>
<rect x="192.80" y="234.95" width="12.60" height="42.35" fill="#cdcdcd" stroke="#383838" stroke-width="1.3"/>
<line x1="217.75" y1="231.42" x2="217.75" y2="227.89" stroke="#333" stroke-width="1.1"/>
<line x1="214.98" y1="227.89" x2="220.52" y2="227.89" stroke="#333" stroke-width="1.1"/>
<rect x="211.60" y="231.42" width="12.30" height="45.88" fill="#cdcdcd" stroke="#383838" stroke-width="1.3"/>
<line x1="236.45" y1="213.59" x2="236.45" y2="204.27" stroke="#333" stroke-width="1.1"/>
<line x1="233.68" y1="204.27" x2="239.22" y2="204.27" stroke="#333" stroke-width="1.1"/>
<rect x="230.30" y="213.59" width="12.30" height="63.71" fill="#cdcdcd" stroke="#383838" stroke-width="1.3"/>
<text x="182.10" y="285.40" font-size="7.8" font-weight="bold" text-anchor="end" transform="rotate(-45 182.10 285.40)" fill="#000" stroke="#000" stroke-width="0.45">none</text>
<text x="200.60" y="285.40" font-size="7.8" font-weight="bold" text-anchor="end" transform="rotate(-45 200.60 285.40)" fill="#000" stroke="#000" stroke-width="0.45">FXa (2 hr)</text>
<text x="219.30" y="285.40" font-size="7.8" font-weight="bold" text-anchor="end" transform="rotate(-45 219.30 285.40)" fill="#000" stroke="#000" stroke-width="0.45">FXa (3 hr)</text>
<text x="237.80" y="285.40" font-size="7.8" font-weight="bold" text-anchor="end" transform="rotate(-45 237.80 285.40)" fill="#000" stroke="#000" stroke-width="0.45">FXa (5 hr)</text>
<text x="141.00" y="223.80" font-size="7.8" font-weight="bold" text-anchor="middle" transform="rotate(-90 141.00 223.80)" textLength="68.00" lengthAdjust="spacingAndGlyphs" fill="#000" stroke="#000" stroke-width="0.3">Thrombin-induced</text>
<text x="151.30" y="223.80" font-size="7.8" font-weight="bold" text-anchor="middle" transform="rotate(-90 151.30 223.80)" textLength="76.00" lengthAdjust="spacingAndGlyphs" fill="#000" stroke="#000" stroke-width="0.3">barrier disruption (%)</text>
<line x1="317.90" y1="177.80" x2="317.90" y2="277.80" stroke="#2a2a2a" stroke-width="1.0"/>
<line x1="315.30" y1="186.80" x2="317.90" y2="186.80" stroke="#2a2a2a" stroke-width="0.9"/>
<text x="314.50" y="189.30" font-size="7.4" font-weight="bold" text-anchor="end" fill="#000" stroke="#000" stroke-width="0.45">100</text>
<line x1="315.30" y1="204.90" x2="317.90" y2="204.90" stroke="#2a2a2a" stroke-width="0.9"/>
<text x="314.50" y="207.40" font-size="7.4" font-weight="bold" text-anchor="end" fill="#000" stroke="#000" stroke-width="0.45">80</text>
<line x1="315.30" y1="223.00" x2="317.90" y2="223.00" stroke="#2a2a2a" stroke-width="0.9"/>
<text x="314.50" y="225.50" font-size="7.4" font-weight="bold" text-anchor="end" fill="#000" stroke="#000" stroke-width="0.45">60</text>
<line x1="315.30" y1="241.10" x2="317.90" y2="241.10" stroke="#2a2a2a" stroke-width="0.9"/>
<text x="314.50" y="243.60" font-size="7.4" font-weight="bold" text-anchor="end" fill="#000" stroke="#000" stroke-width="0.45">40</text>
<line x1="315.30" y1="259.20" x2="317.90" y2="259.20" stroke="#2a2a2a" stroke-width="0.9"/>
<text x="314.50" y="261.70" font-size="7.4" font-weight="bold" text-anchor="end" fill="#000" stroke="#000" stroke-width="0.45">20</text>
<line x1="315.30" y1="277.30" x2="317.90" y2="277.30" stroke="#2a2a2a" stroke-width="0.9"/>
<text x="314.50" y="279.80" font-size="7.4" font-weight="bold" text-anchor="end" fill="#000" stroke="#000" stroke-width="0.45">0</text>
<line x1="317.30" y1="277.30" x2="372.50" y2="277.30" stroke="#2a2a2a" stroke-width="1.0"/>
<line x1="327.10" y1="277.30" x2="327.10" y2="279.30" stroke="#2a2a2a" stroke-width="0.9"/>
<line x1="345.90" y1="277.30" x2="345.90" y2="279.30" stroke="#2a2a2a" stroke-width="0.9"/>
<line x1="364.60" y1="277.30" x2="364.60" y2="279.30" stroke="#2a2a2a" stroke-width="0.9"/>
<rect x="320.70" y="186.80" width="12.80" height="90.50" fill="#fff" stroke="#383838" stroke-width="1.3"/>
<line x1="345.95" y1="253.77" x2="345.95" y2="251.24" stroke="#333" stroke-width="1.1"/>
<line x1="343.23" y1="251.24" x2="348.67" y2="251.24" stroke="#333" stroke-width="1.1"/>
<rect x="339.90" y="253.77" width="12.10" height="23.53" fill="#cdcdcd" stroke="#383838" stroke-width="1.3"/>
<line x1="364.75" y1="236.94" x2="364.75" y2="231.51" stroke="#333" stroke-width="1.1"/>
<line x1="362.03" y1="231.51" x2="367.47" y2="231.51" stroke="#333" stroke-width="1.1"/>
<rect x="358.70" y="236.94" width="12.10" height="40.36" fill="#cdcdcd" stroke="#383838" stroke-width="1.3"/>
<text x="328.60" y="285.40" font-size="7.8" font-weight="bold" text-anchor="end" transform="rotate(-45 328.60 285.40)" fill="#000" stroke="#000" stroke-width="0.45">none</text>
<text x="347.40" y="285.40" font-size="7.8" font-weight="bold" text-anchor="end" transform="rotate(-45 347.40 285.40)" fill="#000" stroke="#000" stroke-width="0.45">APC</text>
<text x="366.10" y="285.40" font-size="7.8" font-weight="bold" text-anchor="end" transform="rotate(-45 366.10 285.40)" fill="#000" stroke="#000" stroke-width="0.45">FXa</text>
<text x="285.80" y="225.80" font-size="7.8" font-weight="bold" text-anchor="middle" transform="rotate(-90 285.80 225.80)" textLength="64.50" lengthAdjust="spacingAndGlyphs" fill="#000" stroke="#000" stroke-width="0.3">Histones-induced</text>
<text x="296.40" y="225.80" font-size="7.8" font-weight="bold" text-anchor="middle" transform="rotate(-90 296.40 225.80)" textLength="78.00" lengthAdjust="spacingAndGlyphs" fill="#000" stroke="#000" stroke-width="0.3">barrier disruption (%)</text>
<line x1="433.40" y1="177.80" x2="433.40" y2="277.80" stroke="#2a2a2a" stroke-width="1.0"/>
<line x1="430.80" y1="177.62" x2="433.40" y2="177.62" stroke="#2a2a2a" stroke-width="0.9"/>
<text x="430.00" y="180.12" font-size="7.3" font-weight="bold" text-anchor="end" fill="#000" stroke="#000" stroke-width="0.1">70</text>
<line x1="430.80" y1="191.86" x2="433.40" y2="191.86" stroke="#2a2a2a" stroke-width="0.9"/>
<text x="430.00" y="194.36" font-size="7.3" font-weight="bold" text-anchor="end" fill="#000" stroke="#000" stroke-width="0.1">60</text>
<line x1="430.80" y1="206.10" x2="433.40" y2="206.10" stroke="#2a2a2a" stroke-width="0.9"/>
<text x="430.00" y="208.60" font-size="7.3" font-weight="bold" text-anchor="end" fill="#000" stroke="#000" stroke-width="0.1">50</text>
<line x1="430.80" y1="220.34" x2="433.40" y2="220.34" stroke="#2a2a2a" stroke-width="0.9"/>
<text x="430.00" y="222.84" font-size="7.3" font-weight="bold" text-anchor="end" fill="#000" stroke="#000" stroke-width="0.1">40</text>
<line x1="430.80" y1="234.58" x2="433.40" y2="234.58" stroke="#2a2a2a" stroke-width="0.9"/>
<text x="430.00" y="237.08" font-size="7.3" font-weight="bold" text-anchor="end" fill="#000" stroke="#000" stroke-width="0.1">30</text>
<line x1="430.80" y1="248.82" x2="433.40" y2="248.82" stroke="#2a2a2a" stroke-width="0.9"/>
<text x="430.00" y="251.32" font-size="7.3" font-weight="bold" text-anchor="end" fill="#000" stroke="#000" stroke-width="0.1">20</text>
<line x1="430.80" y1="263.06" x2="433.40" y2="263.06" stroke="#2a2a2a" stroke-width="0.9"/>
<text x="430.00" y="265.56" font-size="7.3" font-weight="bold" text-anchor="end" fill="#000" stroke="#000" stroke-width="0.1">10</text>
<line x1="430.80" y1="277.30" x2="433.40" y2="277.30" stroke="#2a2a2a" stroke-width="0.9"/>
<text x="430.00" y="279.80" font-size="7.3" font-weight="bold" text-anchor="end" fill="#000" stroke="#000" stroke-width="0.1">0</text>
<line x1="433.10" y1="277.30" x2="507.70" y2="277.30" stroke="#2a2a2a" stroke-width="1.0"/>
<line x1="443.70" y1="277.30" x2="443.70" y2="279.30" stroke="#2a2a2a" stroke-width="0.9"/>
<line x1="461.90" y1="277.30" x2="461.90" y2="279.30" stroke="#2a2a2a" stroke-width="0.9"/>
<line x1="480.40" y1="277.30" x2="480.40" y2="279.30" stroke="#2a2a2a" stroke-width="0.9"/>
<line x1="499.00" y1="277.30" x2="499.00" y2="279.30" stroke="#2a2a2a" stroke-width="0.9"/>
<line x1="443.70" y1="194.71" x2="443.70" y2="187.73" stroke="#333" stroke-width="1.1"/>
<line x1="441.00" y1="187.73" x2="446.40" y2="187.73" stroke="#333" stroke-width="1.1"/>
<rect x="437.70" y="194.71" width="12.00" height="82.59" fill="#cdcdcd" stroke="#383838" stroke-width="1.3"/>
<line x1="461.90" y1="275.59" x2="461.90" y2="274.74" stroke="#333" stroke-width="1.1"/>
<line x1="459.15" y1="274.74" x2="464.64" y2="274.74" stroke="#333" stroke-width="1.1"/>
<rect x="455.80" y="275.59" width="12.20" height="1.71" fill="#cdcdcd" stroke="#383838" stroke-width="1.3"/>
<line x1="480.40" y1="207.52" x2="480.40" y2="198.13" stroke="#333" stroke-width="1.1"/>
<line x1="477.52" y1="198.13" x2="483.28" y2="198.13" stroke="#333" stroke-width="1.1"/>
<rect x="474.00" y="207.52" width="12.80" height="69.78" fill="#cdcdcd" stroke="#383838" stroke-width="1.3"/>
<line x1="499.00" y1="204.25" x2="499.00" y2="197.56" stroke="#333" stroke-width="1.1"/>
<line x1="496.12" y1="197.56" x2="501.88" y2="197.56" stroke="#333" stroke-width="1.1"/>
<rect x="492.60" y="204.25" width="12.80" height="73.05" fill="#cdcdcd" stroke="#383838" stroke-width="1.3"/>
<text x="462.00" y="273.30" font-size="7" font-weight="normal" text-anchor="middle" fill="#000" stroke="#000" stroke-width="0.35" letter-spacing="0.6">****</text>
<text x="481.00" y="196.60" font-size="7" font-weight="normal" text-anchor="middle" fill="#000" stroke="#000" stroke-width="0.35" letter-spacing="0.8">**</text>
<text x="499.60" y="196.60" font-size="7" font-weight="normal" text-anchor="middle" fill="#000" stroke="#000" stroke-width="0.35" letter-spacing="0.8">**</text>
<text x="445.20" y="285.60" font-size="7.8" font-weight="bold" text-anchor="end" transform="rotate(-45 445.20 285.60)" fill="#000" stroke="#000" stroke-width="0.45">FXa</text>
<text x="463.40" y="285.60" font-size="7.8" font-weight="bold" text-anchor="end" transform="rotate(-45 463.40 285.60)" fill="#000" stroke="#000" stroke-width="0.45">FXa + <tspan font-weight="normal" stroke="none" fill="#6a6a6a" font-size="9.2">&#945;</tspan>PAR1</text>
<text x="481.90" y="285.60" font-size="7.8" font-weight="bold" text-anchor="end" transform="rotate(-45 481.90 285.60)" fill="#000" stroke="#000" stroke-width="0.45">FXa + <tspan font-weight="normal" stroke="none" fill="#6a6a6a" font-size="9.2">&#945;</tspan>PAR2</text>
<text x="500.50" y="285.60" font-size="7.8" font-weight="bold" text-anchor="end" transform="rotate(-45 500.50 285.60)" fill="#000" stroke="#000" stroke-width="0.45">FXa + <tspan font-weight="normal" stroke="none" fill="#6a6a6a" font-size="9.2">&#945;</tspan>PAR3</text>
<text x="415.30" y="226.30" font-size="8.0" font-weight="normal" text-anchor="middle" transform="rotate(-90 415.30 226.30)" textLength="75.50" lengthAdjust="spacingAndGlyphs" fill="#000" stroke="#000" stroke-width="0.25">Barrier disruption (%)</text>
<line x1="42.90" y1="347.00" x2="42.90" y2="446.90" stroke="#2a2a2a" stroke-width="1.0"/>
<line x1="40.30" y1="356.15" x2="42.90" y2="356.15" stroke="#2a2a2a" stroke-width="0.9"/>
<text x="39.50" y="358.65" font-size="7.4" font-weight="bold" text-anchor="end" fill="#000" stroke="#000" stroke-width="0.45">100</text>
<line x1="40.30" y1="374.20" x2="42.90" y2="374.20" stroke="#2a2a2a" stroke-width="0.9"/>
<text x="39.50" y="376.70" font-size="7.4" font-weight="bold" text-anchor="end" fill="#000" stroke="#000" stroke-width="0.45">80</text>
<line x1="40.30" y1="392.25" x2="42.90" y2="392.25" stroke="#2a2a2a" stroke-width="0.9"/>
<text x="39.50" y="394.75" font-size="7.4" font-weight="bold" text-anchor="end" fill="#000" stroke="#000" stroke-width="0.45">60</text>
<line x1="40.30" y1="410.30" x2="42.90" y2="410.30" stroke="#2a2a2a" stroke-width="0.9"/>
<text x="39.50" y="412.80" font-size="7.4" font-weight="bold" text-anchor="end" fill="#000" stroke="#000" stroke-width="0.45">40</text>
<line x1="40.30" y1="428.35" x2="42.90" y2="428.35" stroke="#2a2a2a" stroke-width="0.9"/>
<text x="39.50" y="430.85" font-size="7.4" font-weight="bold" text-anchor="end" fill="#000" stroke="#000" stroke-width="0.45">20</text>
<line x1="40.30" y1="446.40" x2="42.90" y2="446.40" stroke="#2a2a2a" stroke-width="0.9"/>
<text x="39.50" y="448.90" font-size="7.4" font-weight="bold" text-anchor="end" fill="#000" stroke="#000" stroke-width="0.45">0</text>
<line x1="42.40" y1="446.40" x2="117.00" y2="446.40" stroke="#2a2a2a" stroke-width="1.0"/>
<line x1="52.80" y1="446.40" x2="52.80" y2="448.40" stroke="#2a2a2a" stroke-width="0.9"/>
<line x1="71.20" y1="446.40" x2="71.20" y2="448.40" stroke="#2a2a2a" stroke-width="0.9"/>
<line x1="90.00" y1="446.40" x2="90.00" y2="448.40" stroke="#2a2a2a" stroke-width="0.9"/>
<line x1="108.60" y1="446.40" x2="108.60" y2="448.40" stroke="#2a2a2a" stroke-width="0.9"/>
<rect x="46.60" y="356.15" width="12.40" height="90.25" fill="#fff" stroke="#383838" stroke-width="1.3"/>
<line x1="71.25" y1="394.05" x2="71.25" y2="389.18" stroke="#333" stroke-width="1.1"/>
<line x1="68.39" y1="389.18" x2="74.11" y2="389.18" stroke="#333" stroke-width="1.1"/>
<rect x="64.90" y="394.05" width="12.70" height="52.35" fill="#cdcdcd" stroke="#383838" stroke-width="1.3"/>
<line x1="90.00" y1="359.40" x2="90.00" y2="350.46" stroke="#333" stroke-width="1.1"/>
<line x1="87.03" y1="350.46" x2="92.97" y2="350.46" stroke="#333" stroke-width="1.1"/>
<rect x="83.40" y="359.40" width="13.20" height="87.00" fill="#cdcdcd" stroke="#383838" stroke-width="1.3"/>
<line x1="108.55" y1="393.51" x2="108.55" y2="384.13" stroke="#333" stroke-width="1.1"/>
<line x1="105.78" y1="384.13" x2="111.32" y2="384.13" stroke="#333" stroke-width="1.1"/>
<rect x="102.40" y="393.51" width="12.30" height="52.89" fill="#cdcdcd" stroke="#383838" stroke-width="1.3"/>
<text x="90.40" y="349.20" font-size="7" font-weight="normal" text-anchor="middle" fill="#000" stroke="#000" stroke-width="0.35" letter-spacing="0.8">**</text>
<text x="108.60" y="381.60" font-size="7.5" font-weight="bold" text-anchor="middle" fill="#000" stroke="#000" stroke-width="0.3">ns</text>
<text x="54.30" y="454.80" font-size="8.0" font-weight="bold" text-anchor="end" transform="rotate(-45 54.30 454.80)" fill="#000" stroke="#000" stroke-width="0.45">none</text>
<text x="72.70" y="454.80" font-size="8.0" font-weight="bold" text-anchor="end" transform="rotate(-45 72.70 454.80)" fill="#000" stroke="#000" stroke-width="0.45">FXa</text>
<text x="91.50" y="454.80" font-size="8.0" font-weight="bold" text-anchor="end" transform="rotate(-45 91.50 454.80)" fill="#000" stroke="#000" stroke-width="0.45">FXa + <tspan font-weight="normal" stroke="none" fill="#6a6a6a" font-size="9.2">&#945;</tspan>PAR1</text>
<text x="110.10" y="454.80" font-size="8.0" font-weight="bold" text-anchor="end" transform="rotate(-45 110.10 454.80)" fill="#000" stroke="#000" stroke-width="0.45">FXa + <tspan font-weight="normal" stroke="none" fill="#6a6a6a" font-size="9.2">&#945;</tspan>PAR2</text>
<text x="13.40" y="394.30" font-size="7.8" font-weight="bold" text-anchor="middle" transform="rotate(-90 13.40 394.30)" textLength="61.80" lengthAdjust="spacingAndGlyphs" fill="#000" stroke="#000" stroke-width="0.3">TFLLRN-induced</text>
<text x="22.80" y="393.00" font-size="8.2" font-weight="normal" text-anchor="middle" transform="rotate(-90 22.80 393.00)" textLength="76.30" lengthAdjust="spacingAndGlyphs" fill="#000" stroke="#000" stroke-width="0.3">barrier disruption (%)</text>
<line x1="226.80" y1="346.70" x2="226.80" y2="446.90" stroke="#2a2a2a" stroke-width="1.0"/>
<line x1="224.20" y1="356.15" x2="226.80" y2="356.15" stroke="#2a2a2a" stroke-width="0.9"/>
<text x="223.40" y="358.65" font-size="7.4" font-weight="bold" text-anchor="end" fill="#000" stroke="#000" stroke-width="0.45">100</text>
<line x1="224.20" y1="374.20" x2="226.80" y2="374.20" stroke="#2a2a2a" stroke-width="0.9"/>
<text x="223.40" y="376.70" font-size="7.4" font-weight="bold" text-anchor="end" fill="#000" stroke="#000" stroke-width="0.45">80</text>
<line x1="224.20" y1="392.25" x2="226.80" y2="392.25" stroke="#2a2a2a" stroke-width="0.9"/>
<text x="223.40" y="394.75" font-size="7.4" font-weight="bold" text-anchor="end" fill="#000" stroke="#000" stroke-width="0.45">60</text>
<line x1="224.20" y1="410.30" x2="226.80" y2="410.30" stroke="#2a2a2a" stroke-width="0.9"/>
<text x="223.40" y="412.80" font-size="7.4" font-weight="bold" text-anchor="end" fill="#000" stroke="#000" stroke-width="0.45">40</text>
<line x1="224.20" y1="428.35" x2="226.80" y2="428.35" stroke="#2a2a2a" stroke-width="0.9"/>
<text x="223.40" y="430.85" font-size="7.4" font-weight="bold" text-anchor="end" fill="#000" stroke="#000" stroke-width="0.45">20</text>
<line x1="224.20" y1="446.40" x2="226.80" y2="446.40" stroke="#2a2a2a" stroke-width="0.9"/>
<text x="223.40" y="448.90" font-size="7.4" font-weight="bold" text-anchor="end" fill="#000" stroke="#000" stroke-width="0.45">0</text>
<line x1="226.30" y1="446.40" x2="317.30" y2="446.40" stroke="#2a2a2a" stroke-width="1.0"/>
<line x1="236.20" y1="446.40" x2="236.20" y2="448.40" stroke="#2a2a2a" stroke-width="0.9"/>
<line x1="254.70" y1="446.40" x2="254.70" y2="448.40" stroke="#2a2a2a" stroke-width="0.9"/>
<line x1="273.30" y1="446.40" x2="273.30" y2="448.40" stroke="#2a2a2a" stroke-width="0.9"/>
<line x1="292.00" y1="446.40" x2="292.00" y2="448.40" stroke="#2a2a2a" stroke-width="0.9"/>
<line x1="310.20" y1="446.40" x2="310.20" y2="448.40" stroke="#2a2a2a" stroke-width="0.9"/>
<rect x="230.00" y="356.15" width="12.50" height="90.25" fill="#fff" stroke="#383838" stroke-width="1.3"/>
<line x1="254.70" y1="389.99" x2="254.70" y2="375.64" stroke="#333" stroke-width="1.1"/>
<line x1="251.82" y1="375.64" x2="257.58" y2="375.64" stroke="#333" stroke-width="1.1"/>
<rect x="248.30" y="389.99" width="12.80" height="56.41" fill="#cdcdcd" stroke="#383838" stroke-width="1.3"/>
<line x1="273.25" y1="374.38" x2="273.25" y2="357.50" stroke="#333" stroke-width="1.1"/>
<line x1="270.39" y1="357.50" x2="276.11" y2="357.50" stroke="#333" stroke-width="1.1"/>
<rect x="266.90" y="374.38" width="12.70" height="72.02" fill="#cdcdcd" stroke="#383838" stroke-width="1.3"/>
<line x1="292.05" y1="388.37" x2="292.05" y2="374.92" stroke="#333" stroke-width="1.1"/>
<line x1="289.19" y1="374.92" x2="294.91" y2="374.92" stroke="#333" stroke-width="1.1"/>
<rect x="285.70" y="388.37" width="12.70" height="58.03" fill="#cdcdcd" stroke="#383838" stroke-width="1.3"/>
<line x1="310.15" y1="359.40" x2="310.15" y2="354.53" stroke="#333" stroke-width="1.1"/>
<line x1="307.38" y1="354.53" x2="312.92" y2="354.53" stroke="#333" stroke-width="1.1"/>
<rect x="304.00" y="359.40" width="12.30" height="87.00" fill="#cdcdcd" stroke="#383838" stroke-width="1.3"/>
<text x="273.30" y="354.30" font-size="7.5" font-weight="bold" text-anchor="middle" fill="#000" stroke="#000" stroke-width="0.3">ns</text>
<text x="292.00" y="372.00" font-size="7.5" font-weight="bold" text-anchor="middle" fill="#000" stroke="#000" stroke-width="0.3">ns</text>
<text x="310.40" y="352.80" font-size="7" font-weight="normal" text-anchor="middle" fill="#000" stroke="#000" stroke-width="0.35">*</text>
<text x="237.70" y="454.80" font-size="8.0" font-weight="bold" text-anchor="end" transform="rotate(-45 237.70 454.80)" fill="#000" stroke="#000" stroke-width="0.45">none</text>
<text x="256.20" y="454.80" font-size="8.0" font-weight="bold" text-anchor="end" transform="rotate(-45 256.20 454.80)" fill="#000" stroke="#000" stroke-width="0.45">FXa</text>
<text x="274.80" y="454.80" font-size="8.0" font-weight="bold" text-anchor="end" transform="rotate(-45 274.80 454.80)" fill="#000" stroke="#000" stroke-width="0.45">FXa + <tspan font-weight="normal" stroke="none" fill="#6a6a6a" font-size="9.2">&#945;</tspan>PAR1</text>
<text x="293.50" y="454.80" font-size="8.0" font-weight="bold" text-anchor="end" transform="rotate(-45 293.50 454.80)" fill="#000" stroke="#000" stroke-width="0.45">FXa + <tspan font-weight="normal" stroke="none" fill="#6a6a6a" font-size="9.2">&#945;</tspan>PAR2</text>
<text x="311.70" y="454.80" font-size="8.0" font-weight="bold" text-anchor="end" transform="rotate(-45 311.70 454.80)" fill="#000" stroke="#000" stroke-width="0.45">FXa + <tspan font-weight="normal" stroke="none" fill="#6a6a6a" font-size="9.2">&#945;</tspan>PAR1 + <tspan font-weight="normal" stroke="none" fill="#6a6a6a" font-size="9.2">&#945;</tspan>PAR2</text>
<text x="195.60" y="395.00" font-size="7.8" font-weight="bold" text-anchor="middle" transform="rotate(-90 195.60 395.00)" textLength="63.00" lengthAdjust="spacingAndGlyphs" fill="#000" stroke="#000" stroke-width="0.3">SFLLRN-induced</text>
<text x="205.40" y="393.60" font-size="8.2" font-weight="normal" text-anchor="middle" transform="rotate(-90 205.40 393.60)" textLength="76.00" lengthAdjust="spacingAndGlyphs" fill="#000" stroke="#000" stroke-width="0.3">barrier disruption (%)</text>
<line x1="415.80" y1="347.80" x2="415.80" y2="447.30" stroke="#2a2a2a" stroke-width="1.0"/>
<line x1="413.20" y1="354.90" x2="415.80" y2="354.90" stroke="#2a2a2a" stroke-width="0.9"/>
<text x="412.40" y="357.40" font-size="7.4" font-weight="bold" text-anchor="end" fill="#000" stroke="#000" stroke-width="0.45">120</text>
<line x1="413.20" y1="370.22" x2="415.80" y2="370.22" stroke="#2a2a2a" stroke-width="0.9"/>
<text x="412.40" y="372.72" font-size="7.4" font-weight="bold" text-anchor="end" fill="#000" stroke="#000" stroke-width="0.45">100</text>
<line x1="413.20" y1="385.54" x2="415.80" y2="385.54" stroke="#2a2a2a" stroke-width="0.9"/>
<text x="412.40" y="388.04" font-size="7.4" font-weight="bold" text-anchor="end" fill="#000" stroke="#000" stroke-width="0.45">80</text>
<line x1="413.20" y1="400.85" x2="415.80" y2="400.85" stroke="#2a2a2a" stroke-width="0.9"/>
<text x="412.40" y="403.35" font-size="7.4" font-weight="bold" text-anchor="end" fill="#000" stroke="#000" stroke-width="0.45">60</text>
<line x1="413.20" y1="416.17" x2="415.80" y2="416.17" stroke="#2a2a2a" stroke-width="0.9"/>
<text x="412.40" y="418.67" font-size="7.4" font-weight="bold" text-anchor="end" fill="#000" stroke="#000" stroke-width="0.45">40</text>
<line x1="413.20" y1="431.48" x2="415.80" y2="431.48" stroke="#2a2a2a" stroke-width="0.9"/>
<text x="412.40" y="433.98" font-size="7.4" font-weight="bold" text-anchor="end" fill="#000" stroke="#000" stroke-width="0.45">20</text>
<line x1="413.20" y1="446.80" x2="415.80" y2="446.80" stroke="#2a2a2a" stroke-width="0.9"/>
<text x="412.40" y="449.30" font-size="7.4" font-weight="bold" text-anchor="end" fill="#000" stroke="#000" stroke-width="0.45">0</text>
<line x1="415.30" y1="446.80" x2="489.50" y2="446.80" stroke="#2a2a2a" stroke-width="1.0"/>
<line x1="425.60" y1="446.80" x2="425.60" y2="448.80" stroke="#2a2a2a" stroke-width="0.9"/>
<line x1="444.20" y1="446.80" x2="444.20" y2="448.80" stroke="#2a2a2a" stroke-width="0.9"/>
<line x1="462.80" y1="446.80" x2="462.80" y2="448.80" stroke="#2a2a2a" stroke-width="0.9"/>
<line x1="481.40" y1="446.80" x2="481.40" y2="448.80" stroke="#2a2a2a" stroke-width="0.9"/>
<rect x="419.30" y="370.22" width="12.70" height="76.58" fill="#fff" stroke="#383838" stroke-width="1.3"/>
<line x1="444.20" y1="358.73" x2="444.20" y2="350.54" stroke="#333" stroke-width="1.1"/>
<line x1="441.32" y1="350.54" x2="447.08" y2="350.54" stroke="#333" stroke-width="1.1"/>
<rect x="437.80" y="358.73" width="12.80" height="88.07" fill="#cdcdcd" stroke="#383838" stroke-width="1.3"/>
<line x1="462.80" y1="412.03" x2="462.80" y2="408.51" stroke="#333" stroke-width="1.1"/>
<line x1="459.92" y1="408.51" x2="465.68" y2="408.51" stroke="#333" stroke-width="1.1"/>
<rect x="456.40" y="412.03" width="12.80" height="34.77" fill="#cdcdcd" stroke="#383838" stroke-width="1.3"/>
<line x1="481.35" y1="399.01" x2="481.35" y2="397.79" stroke="#333" stroke-width="1.1"/>
<line x1="478.49" y1="397.79" x2="484.21" y2="397.79" stroke="#333" stroke-width="1.1"/>
<rect x="475.00" y="399.01" width="12.70" height="47.79" fill="#cdcdcd" stroke="#383838" stroke-width="1.3"/>
<line x1="425.50" y1="342.90" x2="444.30" y2="342.90" stroke="#333" stroke-width="1.0"/>
<line x1="425.50" y1="342.90" x2="425.50" y2="346.30" stroke="#333" stroke-width="1.0"/>
<line x1="444.30" y1="342.90" x2="444.30" y2="346.30" stroke="#333" stroke-width="1.0"/>
<text x="434.50" y="341.80" font-size="7" font-weight="normal" text-anchor="middle" fill="#000" stroke="#000" stroke-width="0.35">*</text>
<line x1="462.70" y1="389.80" x2="481.40" y2="389.80" stroke="#333" stroke-width="1.0"/>
<line x1="462.70" y1="389.80" x2="462.70" y2="393.30" stroke="#333" stroke-width="1.0"/>
<line x1="481.40" y1="389.80" x2="481.40" y2="393.30" stroke="#333" stroke-width="1.0"/>
<text x="471.60" y="388.70" font-size="7" font-weight="normal" text-anchor="middle" fill="#000" stroke="#000" stroke-width="0.35">*</text>
<text x="427.10" y="455.20" font-size="8.0" font-weight="bold" text-anchor="end" transform="rotate(-45 427.10 455.20)" fill="#000" stroke="#000" stroke-width="0.45"><tspan font-weight="normal" stroke="none" fill="#6a6a6a" font-size="9.2">&#945;</tspan>PAR3</text>
<text x="445.70" y="455.20" font-size="8.0" font-weight="bold" text-anchor="end" transform="rotate(-45 445.70 455.20)" fill="#000" stroke="#000" stroke-width="0.45">none</text>
<text x="464.30" y="455.20" font-size="8.0" font-weight="bold" text-anchor="end" transform="rotate(-45 464.30 455.20)" fill="#000" stroke="#000" stroke-width="0.45">FXa</text>
<text x="482.90" y="455.20" font-size="8.0" font-weight="bold" text-anchor="end" transform="rotate(-45 482.90 455.20)" fill="#000" stroke="#000" stroke-width="0.45">FXa + <tspan font-weight="normal" stroke="none" fill="#6a6a6a" font-size="9.2">&#945;</tspan>PAR3</text>
<text x="384.60" y="394.50" font-size="7.8" font-weight="bold" text-anchor="middle" transform="rotate(-90 384.60 394.50)" textLength="68.80" lengthAdjust="spacingAndGlyphs" fill="#000" stroke="#000" stroke-width="0.3">Thrombin-induced</text>
<text x="394.40" y="395.00" font-size="8.2" font-weight="normal" text-anchor="middle" transform="rotate(-90 394.40 395.00)" textLength="76.80" lengthAdjust="spacingAndGlyphs" fill="#000" stroke="#000" stroke-width="0.3">barrier disruption (%)</text>
</svg>
</body></html>
